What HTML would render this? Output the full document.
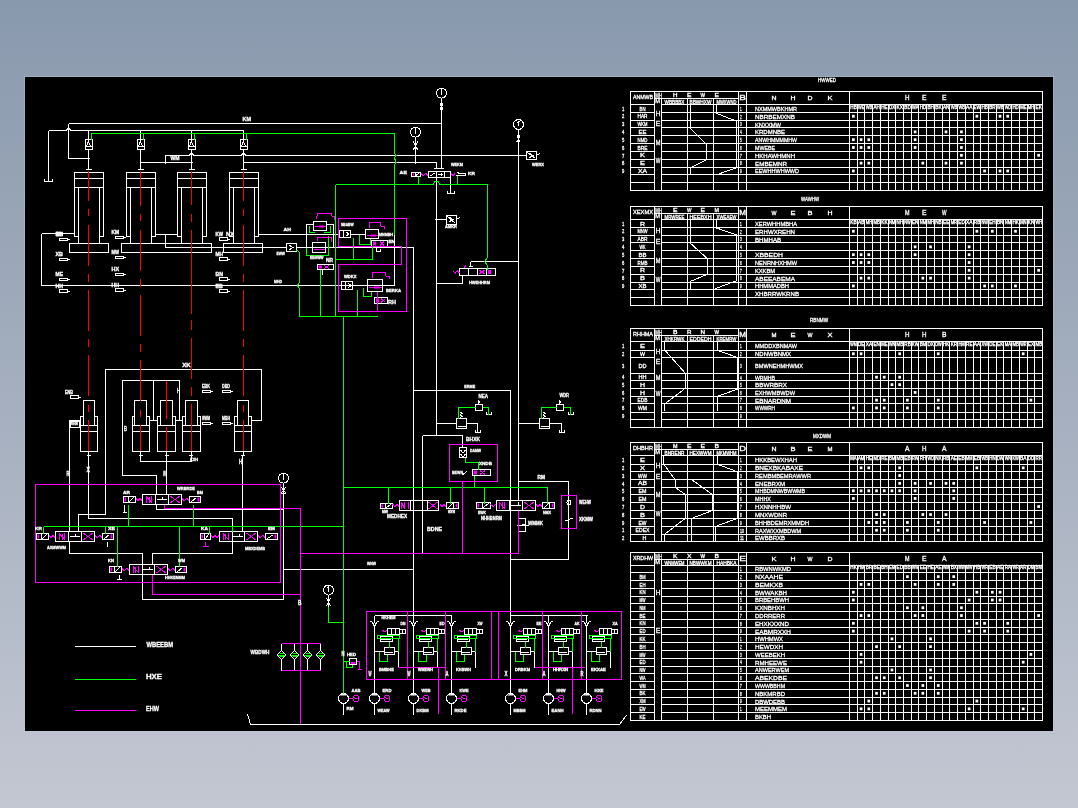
<!DOCTYPE html>
<html><head><meta charset="utf-8"><title>CAD</title>
<style>
html,body{margin:0;padding:0;width:1078px;height:808px;overflow:hidden;}
body{background:linear-gradient(to bottom,#8999ad 0px,#a5afbf 404px,#c3c7d2 808px);font-family:"Liberation Sans",sans-serif;}
#cad{position:absolute;left:25px;top:77px;width:1028px;height:654px;background:#000;box-shadow:0 0 0 1px rgba(190,205,225,0.3);}
svg{position:absolute;left:0;top:0;will-change:transform;}
text{font-family:"Liberation Sans",sans-serif;}
</style></head><body>
<div id="cad"></div>
<svg width="1078" height="808" viewBox="0 0 1078 808">
<g shape-rendering="crispEdges"><path d="M630.5 91.5 L1042.5 91.5 L1042.5 190.5 L630.5 190.5Z M630.5 104.5L654.5 104.5 M661.5 104.5L1042.5 104.5 M654.5 98.3L738.5 98.3 M654.5 91.5L654.5 190.5 M661.5 98.3L661.5 190.5 M687.5 98.3L687.5 190.5 M713.5 98.3L713.5 190.5 M738.5 91.5L738.5 190.5 M746.5 91.5L746.5 190.5 M849.5 91.5L849.5 190.5 M630.5 112.32L654.5 112.32 M661.5 112.32L1042.5 112.32 M630.5 120.14L654.5 120.14 M661.5 120.14L1042.5 120.14 M630.5 127.95L654.5 127.95 M661.5 127.95L1042.5 127.95 M630.5 135.77L654.5 135.77 M661.5 135.77L1042.5 135.77 M630.5 143.59L654.5 143.59 M661.5 143.59L1042.5 143.59 M630.5 151.41L654.5 151.41 M661.5 151.41L1042.5 151.41 M630.5 159.23L654.5 159.23 M661.5 159.23L1042.5 159.23 M630.5 167.05L654.5 167.05 M661.5 167.05L1042.5 167.05 M630.5 174.86L654.5 174.86 M661.5 174.86L1042.5 174.86 M630.5 182.68L654.5 182.68 M661.5 182.68L1042.5 182.68 M857.22 104.5L857.22 190.5 M864.94 104.5L864.94 190.5 M872.66 104.5L872.66 190.5 M880.38 104.5L880.38 190.5 M888.1 104.5L888.1 190.5 M895.82 104.5L895.82 190.5 M903.54 104.5L903.54 190.5 M911.26 104.5L911.26 190.5 M918.98 104.5L918.98 190.5 M926.7 104.5L926.7 190.5 M934.42 104.5L934.42 190.5 M942.14 104.5L942.14 190.5 M949.86 104.5L949.86 190.5 M957.58 104.5L957.58 190.5 M965.3 104.5L965.3 190.5 M973.02 104.5L973.02 190.5 M980.74 104.5L980.74 190.5 M988.46 104.5L988.46 190.5 M996.18 104.5L996.18 190.5 M1003.9 104.5L1003.9 190.5 M1011.62 104.5L1011.62 190.5 M1019.34 104.5L1019.34 190.5 M1027.06 104.5L1027.06 190.5 M1034.78 104.5L1034.78 190.5 M690.5 104.5 L690.5 128.8 L706.5 144.4 L706.5 159.8 L690.5 167.7 L690.5 175.1 M716.5 104.5 L716.5 113.3 L736.5 121.2 L736.5 167.7 L715.5 175.1 M630.5 206.5 L1042.5 206.5 L1042.5 305.5 L630.5 305.5Z M630.5 219.5L654.5 219.5 M661.5 219.5L1042.5 219.5 M654.5 213.3L738.5 213.3 M654.5 206.5L654.5 305.5 M661.5 213.3L661.5 305.5 M687.5 213.3L687.5 305.5 M713.5 213.3L713.5 305.5 M738.5 206.5L738.5 305.5 M746.5 206.5L746.5 305.5 M849.5 206.5L849.5 305.5 M630.5 227.32L654.5 227.32 M661.5 227.32L1042.5 227.32 M630.5 235.14L654.5 235.14 M661.5 235.14L1042.5 235.14 M630.5 242.95L654.5 242.95 M661.5 242.95L1042.5 242.95 M630.5 250.77L654.5 250.77 M661.5 250.77L1042.5 250.77 M630.5 258.59L654.5 258.59 M661.5 258.59L1042.5 258.59 M630.5 266.41L654.5 266.41 M661.5 266.41L1042.5 266.41 M630.5 274.23L654.5 274.23 M661.5 274.23L1042.5 274.23 M630.5 282.05L654.5 282.05 M661.5 282.05L1042.5 282.05 M630.5 289.86L654.5 289.86 M661.5 289.86L1042.5 289.86 M630.5 297.68L654.5 297.68 M661.5 297.68L1042.5 297.68 M857.22 219.5L857.22 305.5 M864.94 219.5L864.94 305.5 M872.66 219.5L872.66 305.5 M880.38 219.5L880.38 305.5 M888.1 219.5L888.1 305.5 M895.82 219.5L895.82 305.5 M903.54 219.5L903.54 305.5 M911.26 219.5L911.26 305.5 M918.98 219.5L918.98 305.5 M926.7 219.5L926.7 305.5 M934.42 219.5L934.42 305.5 M942.14 219.5L942.14 305.5 M949.86 219.5L949.86 305.5 M957.58 219.5L957.58 305.5 M965.3 219.5L965.3 305.5 M973.02 219.5L973.02 305.5 M980.74 219.5L980.74 305.5 M988.46 219.5L988.46 305.5 M996.18 219.5L996.18 305.5 M1003.9 219.5L1003.9 305.5 M1011.62 219.5L1011.62 305.5 M1019.34 219.5L1019.34 305.5 M1027.06 219.5L1027.06 305.5 M1034.78 219.5L1034.78 305.5 M690.5 219.5 L690.5 243.3 L707.5 258.7 L707.5 274.3 L690.5 281.3 L690.5 289.2 M716.5 219.5 L716.5 228 L736.5 234.8 L736.5 280.7 L715.5 288.6 M630.5 328.5 L1042.5 328.5 L1042.5 427 L630.5 427Z M630.5 341.5L654.5 341.5 M661.5 341.5L1042.5 341.5 M654.5 335.3L738.5 335.3 M654.5 328.5L654.5 427 M661.5 335.3L661.5 427 M687.5 335.3L687.5 427 M713.5 335.3L713.5 427 M738.5 328.5L738.5 427 M746.5 328.5L746.5 427 M849.5 328.5L849.5 427 M630.5 350.1L654.5 350.1 M661.5 350.1L1042.5 350.1 M630.5 357.4L654.5 357.4 M661.5 357.4L1042.5 357.4 M630.5 373.6L654.5 373.6 M661.5 373.6L1042.5 373.6 M630.5 380.8L654.5 380.8 M661.5 380.8L1042.5 380.8 M630.5 388.5L654.5 388.5 M661.5 388.5L1042.5 388.5 M630.5 396.4L654.5 396.4 M661.5 396.4L1042.5 396.4 M630.5 403.9L654.5 403.9 M661.5 403.9L1042.5 403.9 M630.5 412L654.5 412 M661.5 412L1042.5 412 M630.5 419.9L654.5 419.9 M661.5 419.9L1042.5 419.9 M857.22 341.5L857.22 427 M864.94 341.5L864.94 427 M872.66 341.5L872.66 427 M880.38 341.5L880.38 427 M888.1 341.5L888.1 427 M895.82 341.5L895.82 427 M903.54 341.5L903.54 427 M911.26 341.5L911.26 427 M918.98 341.5L918.98 427 M926.7 341.5L926.7 427 M934.42 341.5L934.42 427 M942.14 341.5L942.14 427 M949.86 341.5L949.86 427 M957.58 341.5L957.58 427 M965.3 341.5L965.3 427 M973.02 341.5L973.02 427 M980.74 341.5L980.74 427 M988.46 341.5L988.46 427 M996.18 341.5L996.18 427 M1003.9 341.5L1003.9 427 M1011.62 341.5L1011.62 427 M1019.34 341.5L1019.34 427 M1027.06 341.5L1027.06 427 M1034.78 341.5L1034.78 427 M664.8 341.5 L664.8 350.1 L685 372.9 L685 388.5 L664.8 403.9 L664.8 411.3 M717 341.5 L717 350.1 L737 357.4 L737 389.4 L717 396.4 L717 411.3 M630.5 442.5 L1042.5 442.5 L1042.5 541.5 L630.5 541.5Z M630.5 455.2L654.5 455.2 M661.5 455.2L1042.5 455.2 M654.5 449.3L738.5 449.3 M654.5 442.5L654.5 541.5 M661.5 449.3L661.5 541.5 M687.5 449.3L687.5 541.5 M713.5 449.3L713.5 541.5 M738.5 442.5L738.5 541.5 M746.5 442.5L746.5 541.5 M849.5 442.5L849.5 541.5 M630.5 464.1L654.5 464.1 M661.5 464.1L1042.5 464.1 M630.5 471.6L654.5 471.6 M661.5 471.6L1042.5 471.6 M630.5 479.5L654.5 479.5 M661.5 479.5L1042.5 479.5 M630.5 487.2L654.5 487.2 M661.5 487.2L1042.5 487.2 M630.5 494.4L654.5 494.4 M661.5 494.4L1042.5 494.4 M630.5 502.5L654.5 502.5 M661.5 502.5L1042.5 502.5 M630.5 510.6L654.5 510.6 M661.5 510.6L1042.5 510.6 M630.5 518.5L654.5 518.5 M661.5 518.5L1042.5 518.5 M630.5 526.4L654.5 526.4 M661.5 526.4L1042.5 526.4 M630.5 534.1L654.5 534.1 M661.5 534.1L1042.5 534.1 M857.22 455.2L857.22 541.5 M864.94 455.2L864.94 541.5 M872.66 455.2L872.66 541.5 M880.38 455.2L880.38 541.5 M888.1 455.2L888.1 541.5 M895.82 455.2L895.82 541.5 M903.54 455.2L903.54 541.5 M911.26 455.2L911.26 541.5 M918.98 455.2L918.98 541.5 M926.7 455.2L926.7 541.5 M934.42 455.2L934.42 541.5 M942.14 455.2L942.14 541.5 M949.86 455.2L949.86 541.5 M957.58 455.2L957.58 541.5 M965.3 455.2L965.3 541.5 M973.02 455.2L973.02 541.5 M980.74 455.2L980.74 541.5 M988.46 455.2L988.46 541.5 M996.18 455.2L996.18 541.5 M1003.9 455.2L1003.9 541.5 M1011.62 455.2L1011.62 541.5 M1019.34 455.2L1019.34 541.5 M1027.06 455.2L1027.06 541.5 M1034.78 455.2L1034.78 541.5 M663.7 455.2 L663.7 464.1 L675 479.5 L675 487.2 L685 494.4 L685 518.5 L664.8 534.1 L664.8 541.5 M691.5 479.5 L712.2 494.4 L712.2 510.6 L691.5 518.5 L691.5 541.5 M717 455.2 L717 464.1 L737 471.6 L737 518.5 L715.6 526.4 L715.6 541.5 M630.5 552.5 L1042.5 552.5 L1042.5 720.5 L630.5 720.5Z M630.5 565L654.5 565 M661.5 565L1042.5 565 M654.5 559.3L738.5 559.3 M654.5 552.5L654.5 720.5 M661.5 559.3L661.5 720.5 M687.5 559.3L687.5 720.5 M713.5 559.3L713.5 720.5 M738.5 552.5L738.5 720.5 M746.5 552.5L746.5 720.5 M849.5 552.5L849.5 720.5 M630.5 572.77L654.5 572.77 M661.5 572.77L1042.5 572.77 M630.5 580.55L654.5 580.55 M661.5 580.55L1042.5 580.55 M630.5 588.33L654.5 588.33 M661.5 588.33L1042.5 588.33 M630.5 596.1L654.5 596.1 M661.5 596.1L1042.5 596.1 M630.5 603.88L654.5 603.88 M661.5 603.88L1042.5 603.88 M630.5 611.65L654.5 611.65 M661.5 611.65L1042.5 611.65 M630.5 619.42L654.5 619.42 M661.5 619.42L1042.5 619.42 M630.5 627.2L654.5 627.2 M661.5 627.2L1042.5 627.2 M630.5 634.98L654.5 634.98 M661.5 634.98L1042.5 634.98 M630.5 642.75L654.5 642.75 M661.5 642.75L1042.5 642.75 M630.5 650.52L654.5 650.52 M661.5 650.52L1042.5 650.52 M630.5 658.3L654.5 658.3 M661.5 658.3L1042.5 658.3 M630.5 666.08L654.5 666.08 M661.5 666.08L1042.5 666.08 M630.5 673.85L654.5 673.85 M661.5 673.85L1042.5 673.85 M630.5 681.62L654.5 681.62 M661.5 681.62L1042.5 681.62 M630.5 689.4L654.5 689.4 M661.5 689.4L1042.5 689.4 M630.5 697.17L654.5 697.17 M661.5 697.17L1042.5 697.17 M630.5 704.95L654.5 704.95 M661.5 704.95L1042.5 704.95 M630.5 712.73L654.5 712.73 M661.5 712.73L1042.5 712.73 M857.22 565L857.22 720.5 M864.94 565L864.94 720.5 M872.66 565L872.66 720.5 M880.38 565L880.38 720.5 M888.1 565L888.1 720.5 M895.82 565L895.82 720.5 M903.54 565L903.54 720.5 M911.26 565L911.26 720.5 M918.98 565L918.98 720.5 M926.7 565L926.7 720.5 M934.42 565L934.42 720.5 M942.14 565L942.14 720.5 M949.86 565L949.86 720.5 M957.58 565L957.58 720.5 M965.3 565L965.3 720.5 M973.02 565L973.02 720.5 M980.74 565L980.74 720.5 M988.46 565L988.46 720.5 M996.18 565L996.18 720.5 M1003.9 565L1003.9 720.5 M1011.62 565L1011.62 720.5 M1019.34 565L1019.34 720.5 M1027.06 565L1027.06 720.5 M1034.78 565L1034.78 720.5 M68.5 123.5L441.5 123.5 M68.5 123.5L68.5 158.5 M68.5 158.5L89.5 158.5 M48.5 130.5L66 130.5 M66 130.5 L68.5 128 L71 130.5 M71 130.5L244 130.5 M48.5 130.5L48.5 181 M44.5 181.5L52.5 181.5 M44.5 179L44.5 181.5 M52.5 179L52.5 181.5 M88.5 130.5L88.5 139.5 M85 139.5 L92.5 139.5 L92.5 149.5 L85 149.5Z M86.5 146 L88.5 141.5 L90.5 146 M86 146.5L91.5 146.5 M88.5 149.5L88.5 170 M85.5 169.5L91.5 169.5 M140.5 130.5L140.5 139.5 M137 139.5 L144.5 139.5 L144.5 149.5 L137 149.5Z M138.5 146 L140.5 141.5 L142.5 146 M138 146.5L143.5 146.5 M140.5 149.5L140.5 170 M137.5 169.5L143.5 169.5 M191.5 130.5L191.5 139.5 M188 139.5 L195.5 139.5 L195.5 149.5 L188 149.5Z M189.5 146 L191.5 141.5 L193.5 146 M189 146.5L194.5 146.5 M191.5 149.5L191.5 170 M188.5 169.5L194.5 169.5 M243.5 130.5L243.5 139.5 M240 139.5 L247.5 139.5 L247.5 149.5 L240 149.5Z M241.5 146 L243.5 141.5 L245.5 146 M241 146.5L246.5 146.5 M243.5 149.5L243.5 170 M240.5 169.5L246.5 169.5 M165 155.5L189 155.5 M189 155.5 L191.5 153 L194 155.5 M194 155.5L241 155.5 M241 155.5 L243.5 153 L246 155.5 M246 155.5L526.5 155.5 M165.5 155.5L165.5 164 M140.5 162.5L192.5 162.5 M243.5 162.5L436.5 162.5 M436.5 162.5L436.5 168.5 M434 168.5L439 168.5 M78.6 236.5 L74.6 236.5 L74.6 172.5 L103.6 172.5 L103.6 236.5 L99.6 236.5 M74.6 178.5L103.6 178.5 M74.6 187.5L103.6 187.5 M78.6 187.5L78.6 243.5 M99.6 187.5L99.6 243.5 M130.4 236.5 L126.4 236.5 L126.4 172.5 L155.4 172.5 L155.4 236.5 L151.4 236.5 M126.4 178.5L155.4 178.5 M126.4 187.5L155.4 187.5 M130.4 187.5L130.4 243.5 M151.4 187.5L151.4 243.5 M181.6 236.5 L177.6 236.5 L177.6 172.5 L206.6 172.5 L206.6 236.5 L202.6 236.5 M177.6 178.5L206.6 178.5 M177.6 187.5L206.6 187.5 M181.6 187.5L181.6 243.5 M202.6 187.5L202.6 243.5 M233.3 236.5 L229.3 236.5 L229.3 172.5 L258.3 172.5 L258.3 236.5 L254.3 236.5 M229.3 178.5L258.3 178.5 M229.3 187.5L258.3 187.5 M233.3 187.5L233.3 243.5 M254.3 187.5L254.3 243.5 M69.5 243.5 L108.5 243.5 L108.5 252.5 L69.5 252.5Z M121.5 243.5 L211.5 243.5 L211.5 252.5 L121.5 252.5Z M223.5 243.5 L262.5 243.5 L262.5 252.5 L223.5 252.5Z M155.4 234.5L176.6 234.5 M165.5 234.5L165.5 247.5 M165.5 247.5L286.5 247.5 M41.5 233.5L41.5 285.5 M41.5 233.5L74.6 233.5 M41.5 285.5L394.5 285.5 M394.5 235L394.5 285.5 M258.3 234.5L339.5 234.5 M262.5 247.5L286.5 247.5 M286.5 243.5 L296.5 243.5 L296.5 251.5 L286.5 251.5Z M289 245 L293 247.5 L289 250 M296.5 247.5L413.5 247.5 M413.5 247.5L413.5 615.5 M59 238.3 L67 238.3 L67 240.7 L59 240.7Z M67 239.5L70 239.5 M59 258.3 L67 258.3 L67 260.7 L59 260.7Z M67 259.5L70 259.5 M59 278.3 L67 278.3 L67 280.7 L59 280.7Z M67 279.5L70 279.5 M59 289.8 L67 289.8 L67 292.2 L59 292.2Z M67 291L70 291 M115 236.3 L123 236.3 L123 238.7 L115 238.7Z M123 237.5L126 237.5 M115 256.3 L123 256.3 L123 258.7 L115 258.7Z M123 257.5L126 257.5 M115 273.3 L123 273.3 L123 275.7 L115 275.7Z M123 274.5L126 274.5 M115 288.8 L123 288.8 L123 291.2 L115 291.2Z M123 290L126 290 M219 237.8 L227 237.8 L227 240.2 L219 240.2Z M227 239L230 239 M219 257.8 L227 257.8 L227 260.2 L219 260.2Z M227 259L230 259 M219 277.8 L227 277.8 L227 280.2 L219 280.2Z M227 279L230 279 M219 289.8 L227 289.8 L227 292.2 L219 292.2Z M227 291L230 291 M313.5 224.5 L306.5 224.5 L306.5 247.5 M326.5 224.5 L333.5 224.5 L333.5 247.5 M313.5 221.5 L326.5 221.5 L326.5 230.5 L313.5 230.5Z M312.5 242.5 L325.5 242.5 L325.5 252.5 L312.5 252.5Z M339.5 230.5 L350.5 230.5 L350.5 237.5 L339.5 237.5Z M343.5 230.5L343.5 237.5 M346 232 L349 234 L346 236 M350.5 234.5L365.5 234.5 M365.5 229.5 L378.5 229.5 L378.5 238.5 L365.5 238.5Z M371.5 240.5 L387.5 240.5 L387.5 246.5 L371.5 246.5Z M376 246.5L376 251.5 M376 251.5L380 251.5 M376 249L376 251.5 M380 249L380 251.5 M341.5 281.5 L352.5 281.5 L352.5 289.5 L341.5 289.5Z M345.5 281.5L345.5 289.5 M348 283 L351 285.5 L348 288 M296.5 285.5L341.5 285.5 M352.5 285.5L367.5 285.5 M367.5 279.5 L382.5 279.5 L382.5 291.5 L367.5 291.5Z M374.5 297.5 L387.5 297.5 L387.5 303.5 L374.5 303.5Z M317.5 264.5 L333.5 264.5 L333.5 269.5 L317.5 269.5Z M322.5 269.5L322.5 274.5 M436.5 93.2a5 5 0 1 0 10 0a5 5 0 1 0 -10 0 M441.5 89.2L441.5 94.7 M440.5 91.2L442.5 89.7 M441.5 98.2L441.5 168.5 M440.2 104.5a1.3 1.3 0 1 0 2.6 0a1.3 1.3 0 1 0 -2.6 0 M440.2 108.5a1.3 1.3 0 1 0 2.6 0a1.3 1.3 0 1 0 -2.6 0 M439 168.5L444 168.5 M410.5 132.2a5 5 0 1 0 10 0a5 5 0 1 0 -10 0 M415.5 128.2L415.5 133.7 M414.5 130.2L416.5 128.7 M415.5 137.2L415.5 163.6 M413 141 L415.5 146 L418 141 M413 150 L415.5 146 L418 150 M513.5 124.5a5 5 0 1 0 10 0a5 5 0 1 0 -10 0 M518.5 120.5L518.5 126 M517.5 122.5L519.5 121 M518.5 129.5L518.5 500.5 M517.1 136.5a1.4 1.4 0 1 0 2.8 0a1.4 1.4 0 1 0 -2.8 0 M516.5 142.5 L518.5 139 L520.5 142.5 M526.5 151.5 L536.5 151.5 L536.5 159.5 L526.5 159.5Z M527.5 152.5L535.5 158.5 M529 153 L533 155.5 L529 158 M536.5 155.5L540 153.5 M428.5 171.5 L450.5 171.5 L450.5 177.5 L428.5 177.5Z M436.5 171.5L436.5 177.5 M444.5 171.5L444.5 177.5 M430 176L435 173 M437.5 174.5L443 174.5 M441 173L441 176 M411.5 172.5 L420.5 172.5 L420.5 176.5 L411.5 176.5Z M415.1 172.5L415.1 176.5 M415.55 176L419 173 M455.5 175.5 L465 175.5 L465 173.5 L459 173.5 L457 172 M436.5 177.5L436.5 435.5 M450.5 177.5L450.5 193.5 M447 193.5L454 193.5 M447 191L447 193.5 M454 191L454 193.5 M434.5 219.5L446 219.5 M446.5 215.5 L456.5 215.5 L456.5 224.5 L446.5 224.5Z M447.5 216.5L455.5 223.5 M449 217 L453 219.5 L449 222 M456.5 219.5L460 217.5 M470.5 261.5L518.5 261.5 M470.5 261.5L470.5 266 M468.5 266L472.5 266 M459.5 268.5 L495.5 268.5 L495.5 275.5 L459.5 275.5Z M468.5 268.5L468.5 275.5 M477.5 268.5L477.5 275.5 M486.5 268.5L486.5 275.5 M436.5 283.5L462.5 283.5 M462.5 275.5L462.5 283.5 M412.5 390.5L510.5 390.5 M510.5 390.5L510.5 615.5 M436.5 435.5L436.5 435.5 M436.5 423.5L456.5 423.5 M456.5 418.5 L466.5 418.5 L466.5 428.5 L456.5 428.5Z M457.5 426.5L465.5 426.5 M466.5 423.5L477.5 423.5 M477.5 423.5L477.5 432.5 M475 432.5L480 432.5 M475 430L475 432.5 M480 430L480 432.5 M460 418 L462 416.5 L460 415 L462 413.5 L460 412 M475.5 404.5 L482.5 404.5 L482.5 410.5 L475.5 410.5Z M486 414.5L491 414.5 M486 412L486 414.5 M491 412L491 414.5 M478 404 L479.5 402 L478 400.5 M518.5 423.5L539.5 423.5 M539.5 418.5 L549.5 418.5 L549.5 428.5 L539.5 428.5Z M540.5 426.5L548.5 426.5 M549.5 423.5L561.5 423.5 M561.5 423.5L561.5 432.5 M559 432.5L564 432.5 M559 430L559 432.5 M564 430L564 432.5 M543 418 L545 416.5 L543 415 L545 413.5 L543 412 M556.5 404.5 L563.5 404.5 L563.5 410.5 L556.5 410.5Z M568 414.5L573 414.5 M568 412L568 414.5 M573 412L573 414.5 M559 404 L560.5 402 L559 400.5 M422.5 435.5L462.5 435.5 M422.5 435.5L422.5 552.5 M462.5 435.5L462.5 447 M459.5 447.5 L466.5 447.5 L466.5 457.5 L459.5 457.5Z M460.5 450 L463 453 L465.5 450 M460.5 454 L463 457 L465.5 454 M472.5 469.5 L490.5 469.5 L490.5 475.5 L472.5 475.5Z M462 475L467 471.5 M380.5 503.5 L392.5 503.5 L392.5 508.5 L380.5 508.5Z M385.3 503.5L385.3 508.5 M385.9 508L391 504 M399.5 500.5 L438.5 500.5 L438.5 510.5 L399.5 510.5Z M410.5 500.5L410.5 510.5 M427.5 500.5L427.5 510.5 M446.5 502.5 L458.5 502.5 L458.5 508.5 L446.5 508.5Z M453.7 502.5L453.7 508.5 M448 508L453.1 503 M476.5 502.5 L490.5 502.5 L490.5 508.5 L476.5 508.5Z M482.1 502.5L482.1 508.5 M482.8 508L489 503 M496.5 500.5 L535.5 500.5 L535.5 510.5 L496.5 510.5Z M509.5 500.5L509.5 510.5 M522.5 500.5L522.5 510.5 M511 505.5L521 505.5 M518.5 502L518.5 505.5 M542.5 502.5 L554.5 502.5 L554.5 508.5 L542.5 508.5Z M549.7 502.5L549.7 508.5 M544 508L549.1 503 M518.5 481.5L568.5 481.5 M568.5 481.5L568.5 559.5 M510.5 559.5L568.5 559.5 M567 502.5a2 2 0 1 0 4 0a2 2 0 1 0 -4 0 M565 521L573 518 M518.5 518.5 L525.5 518.5 L525.5 531.5 L518.5 531.5Z M516.5 525L528.5 525 M519 526L526 524 M252.5 420.5 L261.5 420.5 L261.5 369.5 L105.5 369.5 L105.5 514.5 L78.5 514.5 L78.5 531.5 M179.5 380.5 L122.5 380.5 L122.5 475.5 L156.5 475.5 L156.5 494.5 M153.5 380.5L153.5 420.5 M179.5 380.5L179.5 420.5 M83.2 400.5 L94.4 400.5 L94.4 425.5 L83.2 425.5Z M83.2 416.5 L80.1 416.5 L80.1 451.5 L97.5 451.5 L97.5 416.5 L94.4 416.5 M80.1 425.5L97.5 425.5 M80.1 431.5L97.5 431.5 M88.8 451.5L88.8 455 M86.8 455L90.8 455 M134.4 400.5 L146.8 400.5 L146.8 425.5 L134.4 425.5Z M134.4 416.5 L132.2 416.5 L132.2 451.5 L149 451.5 L149 416.5 L146.8 416.5 M132.2 425.5L149 425.5 M132.2 431.5L149 431.5 M140.6 451.5L140.6 455 M138.6 455L142.6 455 M160.5 400.5 L172.5 400.5 L172.5 425.5 L160.5 425.5Z M160.5 416.5 L157.4 416.5 L157.4 451.5 L175.6 451.5 L175.6 416.5 L172.5 416.5 M157.4 425.5L175.6 425.5 M157.4 431.5L175.6 431.5 M166.5 451.5L166.5 455 M164.5 455L168.5 455 M185.3 400.5 L197.3 400.5 L197.3 425.5 L185.3 425.5Z M185.3 416.5 L182.6 416.5 L182.6 451.5 L200 451.5 L200 416.5 L197.3 416.5 M182.6 425.5L200 425.5 M182.6 431.5L200 431.5 M191.3 451.5L191.3 455 M189.3 455L193.3 455 M237.2 400.5 L248.8 400.5 L248.8 425.5 L237.2 425.5Z M237.2 416.5 L234.3 416.5 L234.3 451.5 L251.7 451.5 L251.7 416.5 L248.8 416.5 M234.3 425.5L251.7 425.5 M234.3 431.5L251.7 431.5 M243 451.5L243 455 M241 455L245 455 M69.5 531.5 L69.5 420.5 L79.5 420.5 M70.5 421.5 L79.5 421.5 L79.5 427 L70.5 427Z M149 420.5L156.5 420.5 M174.8 420.5L182.8 420.5 M251.5 420.5L252.9 420.5 M140.5 461.5L191.5 461.5 M140.5 455L140.5 461.5 M191.5 455L191.5 461.5 M166.5 455L166.5 494.5 M88.5 455L88.5 518.5 M88.5 518.5L232.5 518.5 M232.5 518.5L232.5 531.5 M242.5 455L242.5 531.5 M70 395.8 L78 395.8 L78 398.2 L70 398.2Z M78 397L81 397 M202 390.3 L210 390.3 L210 392.7 L202 392.7Z M210 391.5L213 391.5 M222 390.3 L230 390.3 L230 392.7 L222 392.7Z M230 391.5L233 391.5 M202 422.3 L210 422.3 L210 424.7 L202 424.7Z M210 423.5L213 423.5 M222 422.3 L230 422.3 L230 424.7 L222 424.7Z M230 423.5L233 423.5 M278.5 478.2a5 5 0 1 0 10 0a5 5 0 1 0 -10 0 M283.5 474.2L283.5 479.7 M282.5 476.2L284.5 474.7 M283.5 483.2L283.5 599.5 M281.5 487.5 L285.5 493 L281.5 493 L285.5 487.5 M142.5 494.5 L181.5 494.5 L181.5 504.5 L142.5 504.5Z M155.5 494.5L155.5 504.5 M168.5 494.5L168.5 504.5 M156.5 499.5L166.5 499.5 M162.65 496.5L162.65 499.5 M123.5 496.5 L135.5 496.5 L135.5 502.5 L123.5 502.5Z M128.3 496.5L128.3 502.5 M128.9 502L134 497 M189.5 496.5 L200.5 496.5 L200.5 502.5 L189.5 502.5Z M191.5 501.5L196.5 497.5 M55.5 531.5 L94.5 531.5 L94.5 541.5 L55.5 541.5Z M68.5 531.5L68.5 541.5 M81.5 531.5L81.5 541.5 M69.5 536.5L79.5 536.5 M75.65 533.5L75.65 536.5 M36.5 533.5 L48.5 533.5 L48.5 539.5 L36.5 539.5Z M41.3 533.5L41.3 539.5 M41.9 539L47 534 M102.5 533.5 L113.5 533.5 L113.5 539.5 L102.5 539.5Z M104.5 538.5L109.5 534.5 M219.5 531.5 L257.5 531.5 L257.5 541.5 L219.5 541.5Z M232.17 531.5L232.17 541.5 M244.83 531.5L244.83 541.5 M233.17 536.5L242.83 536.5 M239.13 533.5L239.13 536.5 M200.5 533.5 L210.5 533.5 L210.5 539.5 L200.5 539.5Z M204.5 533.5L204.5 539.5 M205 539L209 534 M265.5 533.5 L277.5 533.5 L277.5 539.5 L265.5 539.5Z M267.5 538.5L273.5 534.5 M129.5 564.5 L167.5 564.5 L167.5 574.5 L129.5 574.5Z M142.17 564.5L142.17 574.5 M154.83 564.5L154.83 574.5 M143.17 569.5L152.83 569.5 M149.13 566.5L149.13 569.5 M109.5 566.5 L121.5 566.5 L121.5 572.5 L109.5 572.5Z M114.3 566.5L114.3 572.5 M114.9 572L120 567 M175.5 566.5 L186.5 566.5 L186.5 572.5 L175.5 572.5Z M177.5 571.5L182.5 567.5 M124.5 504.5L124.5 512.5 M122.5 512.5L126.5 512.5 M107.5 541.5L107.5 546.5 M119.5 574.5L119.5 579.5 M117 579.5L122 579.5 M156.5 504.5 L156.5 509.5 L283.5 509.5 M69.5 541.5 L69.5 553.5 L142.5 553.5 L142.5 564.5 M152.5 564.5 L152.5 553.5 L232.5 553.5 L232.5 541.5 M142.5 574.5 L142.5 599.5 L283.5 599.5 M283.5 569.5L413.5 569.5 M74.5 646.5L136 646.5 M281.5 650.5 L286 655 L281.5 659.5 L277 655Z M281.5 643.5L281.5 650.5 M281.5 659.5L281.5 670.5 M294.5 650.5 L299 655 L294.5 659.5 L290 655Z M294.5 643.5L294.5 650.5 M294.5 659.5L294.5 670.5 M307.5 650.5 L312 655 L307.5 659.5 L303 655Z M307.5 643.5L307.5 650.5 M307.5 659.5L307.5 670.5 M320.5 650.5 L325 655 L320.5 659.5 L316 655Z M320.5 643.5L320.5 650.5 M320.5 659.5L320.5 670.5 M247.5 714 L250.5 724.5 L619.5 724.5 L626.5 715 M323.5 590a5 5 0 1 0 10 0a5 5 0 1 0 -10 0 M328.5 586L328.5 591.5 M327.5 588L329.5 586.5 M328.5 595L328.5 606.5 M326.5 598 L328.5 602 L330.5 598 M326.5 606 L328.5 602 L330.5 606 M349.5 658.5 L356.5 658.5 L356.5 664.5 L349.5 664.5Z M374.5 615.5L451.5 615.5 M510.5 615.5L587.5 615.5 M338.5 698.5a5 5 0 1 0 10 0a5 5 0 1 0 -10 0 M343.5 703.5L343.5 714.5 M369.5 698.5a5 5 0 1 0 10 0a5 5 0 1 0 -10 0 M374.5 703.5L374.5 714.5 M370 621.5 L371.5 621.5 L374.5 626.5 L377.5 621.5 L379 621.5 M373 624.3a1.5 1.5 0 1 0 3 0a1.5 1.5 0 1 0 -3 0 M374.5 615.5L374.5 622.5 M374.5 626.5L374.5 693.5 M387 628.5 L399.5 628.5 L399.5 634 L387 634Z M391 628.5L391 634 M395 628.5L395 634 M399.5 629.5 L405.5 629.5 L405.5 633 L399.5 633Z M402.5 629.5L402.5 633 M380 636.5 L392 636.5 L392 641.5 L380 641.5Z M381 639L391 639 M384 647.5 L394 647.5 L394 654.5 L384 654.5Z M385 652.5L393 652.5 M374.5 651.5L384 651.5 M394 651.5 L398 651.5 L398 667.5 M408.5 698.5a5 5 0 1 0 10 0a5 5 0 1 0 -10 0 M413.5 703.5L413.5 714.5 M409 621.5 L410.5 621.5 L413.5 626.5 L416.5 621.5 L418 621.5 M412 624.3a1.5 1.5 0 1 0 3 0a1.5 1.5 0 1 0 -3 0 M413.5 615.5L413.5 622.5 M413.5 626.5L413.5 693.5 M426 628.5 L438.5 628.5 L438.5 634 L426 634Z M430 628.5L430 634 M434 628.5L434 634 M438.5 629.5 L444.5 629.5 L444.5 633 L438.5 633Z M441.5 629.5L441.5 633 M419 636.5 L431 636.5 L431 641.5 L419 641.5Z M420 639L430 639 M423 647.5 L433 647.5 L433 654.5 L423 654.5Z M424 652.5L432 652.5 M413.5 651.5L423 651.5 M433 651.5 L437 651.5 L437 667.5 M446.5 698.5a5 5 0 1 0 10 0a5 5 0 1 0 -10 0 M451.5 703.5L451.5 714.5 M447 621.5 L448.5 621.5 L451.5 626.5 L454.5 621.5 L456 621.5 M450 624.3a1.5 1.5 0 1 0 3 0a1.5 1.5 0 1 0 -3 0 M451.5 615.5L451.5 622.5 M451.5 626.5L451.5 693.5 M464 628.5 L476.5 628.5 L476.5 634 L464 634Z M468 628.5L468 634 M472 628.5L472 634 M476.5 629.5 L482.5 629.5 L482.5 633 L476.5 633Z M479.5 629.5L479.5 633 M457 636.5 L469 636.5 L469 641.5 L457 641.5Z M458 639L468 639 M461 647.5 L471 647.5 L471 654.5 L461 654.5Z M462 652.5L470 652.5 M451.5 651.5L461 651.5 M471 651.5 L475 651.5 L475 667.5 M505.5 698.5a5 5 0 1 0 10 0a5 5 0 1 0 -10 0 M510.5 703.5L510.5 714.5 M506 621.5 L507.5 621.5 L510.5 626.5 L513.5 621.5 L515 621.5 M509 624.3a1.5 1.5 0 1 0 3 0a1.5 1.5 0 1 0 -3 0 M510.5 615.5L510.5 622.5 M510.5 626.5L510.5 693.5 M523 628.5 L535.5 628.5 L535.5 634 L523 634Z M527 628.5L527 634 M531 628.5L531 634 M535.5 629.5 L541.5 629.5 L541.5 633 L535.5 633Z M538.5 629.5L538.5 633 M516 636.5 L528 636.5 L528 641.5 L516 641.5Z M517 639L527 639 M520 647.5 L530 647.5 L530 654.5 L520 654.5Z M521 652.5L529 652.5 M510.5 651.5L520 651.5 M530 651.5 L534 651.5 L534 667.5 M543.5 698.5a5 5 0 1 0 10 0a5 5 0 1 0 -10 0 M548.5 703.5L548.5 714.5 M544 621.5 L545.5 621.5 L548.5 626.5 L551.5 621.5 L553 621.5 M547 624.3a1.5 1.5 0 1 0 3 0a1.5 1.5 0 1 0 -3 0 M548.5 615.5L548.5 622.5 M548.5 626.5L548.5 693.5 M561 628.5 L573.5 628.5 L573.5 634 L561 634Z M565 628.5L565 634 M569 628.5L569 634 M573.5 629.5 L579.5 629.5 L579.5 633 L573.5 633Z M576.5 629.5L576.5 633 M554 636.5 L566 636.5 L566 641.5 L554 641.5Z M555 639L565 639 M558 647.5 L568 647.5 L568 654.5 L558 654.5Z M559 652.5L567 652.5 M548.5 651.5L558 651.5 M568 651.5 L572 651.5 L572 667.5 M581.5 698.5a5 5 0 1 0 10 0a5 5 0 1 0 -10 0 M586.5 703.5L586.5 714.5 M582 621.5 L583.5 621.5 L586.5 626.5 L589.5 621.5 L591 621.5 M585 624.3a1.5 1.5 0 1 0 3 0a1.5 1.5 0 1 0 -3 0 M586.5 615.5L586.5 622.5 M586.5 626.5L586.5 693.5 M599 628.5 L611.5 628.5 L611.5 634 L599 634Z M603 628.5L603 634 M607 628.5L607 634 M611.5 629.5 L617.5 629.5 L617.5 633 L611.5 633Z M614.5 629.5L614.5 633 M592 636.5 L604 636.5 L604 641.5 L592 641.5Z M593 639L603 639 M596 647.5 L606 647.5 L606 654.5 L596 654.5Z M597 652.5L605 652.5 M586.5 651.5L596 651.5 M606 651.5 L610 651.5 L610 667.5" stroke="#ffffff" stroke-width="1" fill="none"/>
<path d="M91 133.5L394.5 133.5 M91 133.5L91 139.5 M143 133.5L143 139.5 M194 133.5L194 139.5 M246 133.5L246 139.5 M309.5 226 L309.5 232.5 L315 232.5 M324 232.5 L330.5 232.5 L330.5 226 M306.5 248 L306.5 255.5 L328.5 255.5 L328.5 236 M353.5 237.5 L353.5 259.5 M359.5 234.5 L359.5 244.5 L370.5 244.5 L370.5 238.5 M335.5 259.5L372.5 259.5 M372.5 246.5L372.5 259.5 M394.5 133.5L394.5 153 M394.5 153 L396 155.5 L394.5 158 L396 162.5 L394.5 165 M394.5 165L394.5 235 M357.5 289.5 L357.5 316.5 M363.5 288 L363.5 296.5 L371 296.5 L371 291.5 M320.5 269.5L320.5 316.5 M299.5 316.5L377.5 316.5 M299.5 251.5L299.5 282 M299.5 282 L297.5 285.5 L299.5 289 M299.5 289L299.5 316.5 M296.5 250.5 L299.5 251.5 M335.5 184.5L335.5 316.5 M343.5 316.5L343.5 693.5 M335.5 184.5L433 184.5 M433 184.5 L434.5 181.8 L438.5 181.8 L440 184.5 M440 184.5L487.5 184.5 M418.5 177L418.5 184.5 M457.5 175.5L457.5 184.5 M487.5 184.5L487.5 257.5 M487.5 257.5 L484.5 261.5 L487.5 265.5 L487.5 270 M458.5 418.5 L458.5 407.5 L475.5 407.5 M482.5 407.5 L488.5 407.5 L488.5 414.5 M541.5 418.5 L541.5 407.5 L556.5 407.5 M563.5 407.5 L570.5 407.5 L570.5 414.5 M465.5 457.5 L465.5 462.5 L478.5 462.5 L478.5 469.5 M474.5 475.5L474.5 487.5 M343.5 487.5L547.5 487.5 M450.5 487.5L450.5 503.5 M484.5 487.5L484.5 503.5 M547.5 487.5L547.5 503.5 M388.5 487.5L388.5 503.5 M43.5 526.5L343.5 526.5 M128.5 504.5L128.5 526.5 M193.5 504.5L193.5 526.5 M105.5 526.5L105.5 533.5 M43.5 526.5L43.5 533.5 M117.5 526.5L117.5 566.5 M179.5 526.5L179.5 566.5 M209.5 526.5L209.5 533.5 M232.5 526.5L232.5 531.5 M283.5 526.5L300.5 526.5 M74.5 679.5L136 679.5 M278 655L285 655 M279.5 653.5L283.5 653.5 M279.5 656.5L283.5 656.5 M291 655L298 655 M292.5 653.5L296.5 653.5 M292.5 656.5L296.5 656.5 M304 655L311 655 M305.5 653.5L309.5 653.5 M305.5 656.5L309.5 656.5 M317 655L324 655 M318.5 653.5L322.5 653.5 M318.5 656.5L322.5 656.5 M328.5 606.5 L328.5 622.5 L342.5 622.5 M343.5 661.5 L349.5 661.5 M346.5 661.5 L346.5 667.5 L352.5 667.5 L352.5 664.5 M377 635.5 L399 635.5 L399 638.5 L377 638.5Z M389 641.5L389 647.5 M398 638.5L398 651.5 M379.5 651.5 L379.5 661.5 L387.5 661.5 L387.5 654.5 M416 635.5 L438 635.5 L438 638.5 L416 638.5Z M428 641.5L428 647.5 M437 638.5L437 651.5 M418.5 651.5 L418.5 661.5 L426.5 661.5 L426.5 654.5 M454 635.5 L476 635.5 L476 638.5 L454 638.5Z M466 641.5L466 647.5 M475 638.5L475 651.5 M456.5 651.5 L456.5 661.5 L464.5 661.5 L464.5 654.5 M513 635.5 L535 635.5 L535 638.5 L513 638.5Z M525 641.5L525 647.5 M534 638.5L534 651.5 M515.5 651.5 L515.5 661.5 L523.5 661.5 L523.5 654.5 M551 635.5 L573 635.5 L573 638.5 L551 638.5Z M563 641.5L563 647.5 M572 638.5L572 651.5 M553.5 651.5 L553.5 661.5 L561.5 661.5 L561.5 654.5 M589 635.5 L611 635.5 L611 638.5 L589 638.5Z M601 641.5L601 647.5 M610 638.5L610 651.5 M591.5 651.5 L591.5 661.5 L599.5 661.5 L599.5 654.5" stroke="#00ff00" stroke-width="1" fill="none"/>
<path d="M338.5 246.5 L338.5 218.5 L406.5 218.5 L406.5 311.5 L338.5 311.5 L338.5 264.5 L401.5 264.5 L401.5 246.5 L338.5 246.5 M314.5 226.5L325.5 226.5 M316 219.5 L318 213 L331 213 L332 216 L334.5 216 L334.5 220 M313.5 249.5L324.5 249.5 M317 241 L318 237 L331 237 L332 242 M366.5 235.5L377.5 235.5 M369 228 L370 222 L380 222 L381 226 L384 226 L384 229 M380 241.5L384 245.5 M380 245.5L384 241.5 M368.5 287.5L381.5 287.5 M372 278 L373 272 L385 272 L386 276 L389 276 L389 279 M381 298.5L385.5 302.5 M381 302.5L385.5 298.5 M377 291.5L377 311.5 M324.5 265.5L329 268.5 M324.5 268.5L329 265.5 M421 173.3 L423.33 175.7 L425.67 173.3 L428 175.7 M451 173.5 L453 175.5 L455 173.5 M479 270L485 274 M479 274L485 270 M453 270.8 L455.17 273.2 L457.33 270.8 L459.5 273.2 M464 268L466 265 M449.5 444.5 L497.5 444.5 L497.5 481.5 L449.5 481.5Z M480 470.5L485 474.5 M480 474.5L485 470.5 M462.5 481.5L462.5 552.5 M392.7 504.3 L394.8 506.7 L396.9 504.3 L399 506.7 M401.5 502L401.5 509 M404.5 502L404.5 509 M401.5 502.5L404.5 508.5 M408.5 502L408.5 509 M428.5 502L437.5 509 M428.5 509L437.5 502 M440 504.3 L442 506.7 L444 504.3 L446 506.7 M490.5 504.3 L493.25 506.7 L496 504.3 M499.5 502L499.5 509 M504.5 502L504.5 509 M499.5 502.5L504.5 508.5 M502 502L502 509 M524 502L534 509 M524 509L534 502 M536 504.3 L538 506.7 L540 504.3 L542 506.7 M561.5 495.5 L576.5 495.5 L576.5 528.5 L561.5 528.5Z M518.5 511L518.5 553.5 M300.5 553.5L518.5 553.5 M35.5 484.5 L280.5 484.5 L280.5 582.5 L35.5 582.5Z M146.4 496L146.4 503 M151.6 496L151.6 503 M146.4 496.5L151.6 502.5 M149 496.5L149 502.5 M170 496L180 503 M170 503L180 496 M136 498.3 L138 500.7 L140 498.3 L142 500.7 M182 498.3 L184.33 500.7 L186.67 498.3 L189 500.7 M59.4 533L59.4 540 M64.6 533L64.6 540 M59.4 533.5L64.6 539.5 M62 533.5L62 539.5 M83 533L93 540 M83 540L93 533 M49 535.3 L51 537.7 L53 535.3 L55 537.7 M95 535.3 L97.33 537.7 L99.67 535.3 L102 537.7 M223.3 533L223.3 540 M228.37 533L228.37 540 M223.3 533.5L228.37 539.5 M225.83 533.5L225.83 539.5 M246.33 533L256 540 M246.33 540L256 533 M211 535.3 L213 537.7 L215 535.3 L217 537.7 L219 535.3 M258 535.3 L260.33 537.7 L262.67 535.3 L265 537.7 M133.3 566L133.3 573 M138.37 566L138.37 573 M133.3 566.5L138.37 572.5 M135.83 566.5L135.83 572.5 M156.33 566L166 573 M156.33 573L166 566 M122 568.3 L124.33 570.7 L126.67 568.3 L129 570.7 M168 568.3 L170.33 570.7 L172.67 568.3 L175 570.7 M205.5 541.5L205.5 546.5 M202.5 546.5L208.5 546.5 M164.5 504.5 L164.5 508.5 L300.5 508.5 M300.5 508.5L300.5 723.5 M152.5 574.5 L152.5 594.5 L300.5 594.5 M74.5 710.5L136 710.5 M300.5 599.5L300.5 643.5 M281.5 643.5L320.5 643.5 M281.5 670.5L320.5 670.5 M300.5 670.5L300.5 723.5 M356.5 661.5 L359.5 661.5 L359.5 669 M357.5 669.5L361.5 669.5 M366.5 611.5 L621.5 611.5 L621.5 679.5 L366.5 679.5Z M407.5 611.5L407.5 679.5 M445.5 611.5L445.5 679.5 M491.5 611.5L491.5 679.5 M498.5 611.5L498.5 679.5 M542.5 611.5L542.5 679.5 M581.5 611.5L581.5 679.5 M353 698.5a3 3 0 1 0 6 0a3 3 0 1 0 -6 0 M348.5 698.5L353 698.5 M354.5 697.5L357.5 699.5 M384 698.5a3 3 0 1 0 6 0a3 3 0 1 0 -6 0 M379.5 698.5L384 698.5 M385.5 697.5L388.5 699.5 M382.5 630 L384.75 632 L387 630 M423 698.5a3 3 0 1 0 6 0a3 3 0 1 0 -6 0 M418.5 698.5L423 698.5 M424.5 697.5L427.5 699.5 M421.5 630 L423.75 632 L426 630 M461 698.5a3 3 0 1 0 6 0a3 3 0 1 0 -6 0 M456.5 698.5L461 698.5 M462.5 697.5L465.5 699.5 M459.5 630 L461.75 632 L464 630 M520 698.5a3 3 0 1 0 6 0a3 3 0 1 0 -6 0 M515.5 698.5L520 698.5 M521.5 697.5L524.5 699.5 M518.5 630 L520.75 632 L523 630 M558 698.5a3 3 0 1 0 6 0a3 3 0 1 0 -6 0 M553.5 698.5L558 698.5 M559.5 697.5L562.5 699.5 M556.5 630 L558.75 632 L561 630 M596 698.5a3 3 0 1 0 6 0a3 3 0 1 0 -6 0 M591.5 698.5L596 698.5 M597.5 697.5L600.5 699.5 M594.5 630 L596.75 632 L599 630 M438.5 667.5L438.5 714 M572.5 667.5L572.5 714 M398 667.5L445.5 667.5 M534.5 667.5L585 667.5" stroke="#ff00ff" stroke-width="1" fill="none"/>
<path d="M191.5 171L191.5 205.3 M191.5 214L191.5 222 M191.5 229.8L191.5 313.9 M191.5 319.8L191.5 329.7 M191.5 337.6L191.5 379 M191.5 386.5L191.5 395.5 M191.5 404L191.5 451 M166.5 381.2L166.5 418.8 M166.5 426.7L166.5 451" stroke="#ff0000" stroke-width="1" fill="none"/></g>
<path d="M88.5 171L88.5 451" stroke="#ff0000" stroke-width="1" fill="none" stroke-dasharray="41 8.4 7.4 8.4" stroke-dashoffset="11.4" shape-rendering="crispEdges"/><path d="M140.5 171L140.5 451" stroke="#ff0000" stroke-width="1" fill="none" stroke-dasharray="41 8.4 7.4 8.4" stroke-dashoffset="6.4" shape-rendering="crispEdges"/><path d="M243.5 171L243.5 451" stroke="#ff0000" stroke-width="1" fill="none" stroke-dasharray="41 8.4 7.4 8.4" stroke-dashoffset="11.4" shape-rendering="crispEdges"/>
<g><rect x="852" y="114.83" width="2.7" height="2.8" fill="#ffffff"/>
<rect x="975.52" y="114.83" width="2.7" height="2.8" fill="#ffffff"/>
<rect x="998.68" y="114.83" width="2.7" height="2.8" fill="#ffffff"/>
<rect x="1006.4" y="114.83" width="2.7" height="2.8" fill="#ffffff"/>
<rect x="913.76" y="130.46" width="2.7" height="2.8" fill="#ffffff"/>
<rect x="944.64" y="130.46" width="2.7" height="2.8" fill="#ffffff"/>
<rect x="960.08" y="130.46" width="2.7" height="2.8" fill="#ffffff"/>
<rect x="852" y="138.28" width="2.7" height="2.8" fill="#ffffff"/>
<rect x="859.72" y="138.28" width="2.7" height="2.8" fill="#ffffff"/>
<rect x="867.44" y="138.28" width="2.7" height="2.8" fill="#ffffff"/>
<rect x="913.76" y="138.28" width="2.7" height="2.8" fill="#ffffff"/>
<rect x="960.08" y="138.28" width="2.7" height="2.8" fill="#ffffff"/>
<rect x="852" y="146.1" width="2.7" height="2.8" fill="#ffffff"/>
<rect x="859.72" y="146.1" width="2.7" height="2.8" fill="#ffffff"/>
<rect x="867.44" y="146.1" width="2.7" height="2.8" fill="#ffffff"/>
<rect x="913.76" y="146.1" width="2.7" height="2.8" fill="#ffffff"/>
<rect x="960.08" y="146.1" width="2.7" height="2.8" fill="#ffffff"/>
<rect x="960.08" y="153.92" width="2.7" height="2.8" fill="#ffffff"/>
<rect x="1037.28" y="153.92" width="2.7" height="2.8" fill="#ffffff"/>
<rect x="859.72" y="161.74" width="2.7" height="2.8" fill="#ffffff"/>
<rect x="867.44" y="161.74" width="2.7" height="2.8" fill="#ffffff"/>
<rect x="921.48" y="161.74" width="2.7" height="2.8" fill="#ffffff"/>
<rect x="944.64" y="161.74" width="2.7" height="2.8" fill="#ffffff"/>
<rect x="960.08" y="161.74" width="2.7" height="2.8" fill="#ffffff"/>
<rect x="852" y="169.55" width="2.7" height="2.8" fill="#ffffff"/>
<rect x="983.24" y="169.55" width="2.7" height="2.8" fill="#ffffff"/>
<rect x="998.68" y="169.55" width="2.7" height="2.8" fill="#ffffff"/>
<rect x="1006.4" y="169.55" width="2.7" height="2.8" fill="#ffffff"/>
<rect x="852" y="229.83" width="2.7" height="2.8" fill="#ffffff"/>
<rect x="975.52" y="229.83" width="2.7" height="2.8" fill="#ffffff"/>
<rect x="990.96" y="229.83" width="2.7" height="2.8" fill="#ffffff"/>
<rect x="1014.12" y="229.83" width="2.7" height="2.8" fill="#ffffff"/>
<rect x="913.76" y="245.46" width="2.7" height="2.8" fill="#ffffff"/>
<rect x="929.2" y="245.46" width="2.7" height="2.8" fill="#ffffff"/>
<rect x="967.8" y="245.46" width="2.7" height="2.8" fill="#ffffff"/>
<rect x="852" y="253.28" width="2.7" height="2.8" fill="#ffffff"/>
<rect x="859.72" y="253.28" width="2.7" height="2.8" fill="#ffffff"/>
<rect x="867.44" y="253.28" width="2.7" height="2.8" fill="#ffffff"/>
<rect x="913.76" y="253.28" width="2.7" height="2.8" fill="#ffffff"/>
<rect x="967.8" y="253.28" width="2.7" height="2.8" fill="#ffffff"/>
<rect x="852" y="261.1" width="2.7" height="2.8" fill="#ffffff"/>
<rect x="859.72" y="261.1" width="2.7" height="2.8" fill="#ffffff"/>
<rect x="867.44" y="261.1" width="2.7" height="2.8" fill="#ffffff"/>
<rect x="967.8" y="261.1" width="2.7" height="2.8" fill="#ffffff"/>
<rect x="967.8" y="268.92" width="2.7" height="2.8" fill="#ffffff"/>
<rect x="1037.28" y="268.92" width="2.7" height="2.8" fill="#ffffff"/>
<rect x="859.72" y="276.74" width="2.7" height="2.8" fill="#ffffff"/>
<rect x="867.44" y="276.74" width="2.7" height="2.8" fill="#ffffff"/>
<rect x="921.48" y="276.74" width="2.7" height="2.8" fill="#ffffff"/>
<rect x="929.2" y="276.74" width="2.7" height="2.8" fill="#ffffff"/>
<rect x="967.8" y="276.74" width="2.7" height="2.8" fill="#ffffff"/>
<rect x="852" y="284.55" width="2.7" height="2.8" fill="#ffffff"/>
<rect x="983.24" y="284.55" width="2.7" height="2.8" fill="#ffffff"/>
<rect x="990.96" y="284.55" width="2.7" height="2.8" fill="#ffffff"/>
<rect x="1014.12" y="284.55" width="2.7" height="2.8" fill="#ffffff"/>
<rect x="852" y="352.35" width="2.7" height="2.8" fill="#ffffff"/>
<rect x="859.72" y="352.35" width="2.7" height="2.8" fill="#ffffff"/>
<rect x="898.32" y="352.35" width="2.7" height="2.8" fill="#ffffff"/>
<rect x="936.92" y="352.35" width="2.7" height="2.8" fill="#ffffff"/>
<rect x="1021.84" y="352.35" width="2.7" height="2.8" fill="#ffffff"/>
<rect x="875.16" y="375.8" width="2.7" height="2.8" fill="#ffffff"/>
<rect x="882.88" y="375.8" width="2.7" height="2.8" fill="#ffffff"/>
<rect x="898.32" y="375.8" width="2.7" height="2.8" fill="#ffffff"/>
<rect x="890.6" y="383.25" width="2.7" height="2.8" fill="#ffffff"/>
<rect x="898.32" y="383.25" width="2.7" height="2.8" fill="#ffffff"/>
<rect x="913.76" y="391.05" width="2.7" height="2.8" fill="#ffffff"/>
<rect x="875.16" y="398.75" width="2.7" height="2.8" fill="#ffffff"/>
<rect x="882.88" y="398.75" width="2.7" height="2.8" fill="#ffffff"/>
<rect x="906.04" y="398.75" width="2.7" height="2.8" fill="#ffffff"/>
<rect x="936.92" y="398.75" width="2.7" height="2.8" fill="#ffffff"/>
<rect x="1029.56" y="398.75" width="2.7" height="2.8" fill="#ffffff"/>
<rect x="852" y="406.55" width="2.7" height="2.8" fill="#ffffff"/>
<rect x="875.16" y="406.55" width="2.7" height="2.8" fill="#ffffff"/>
<rect x="882.88" y="406.55" width="2.7" height="2.8" fill="#ffffff"/>
<rect x="906.04" y="406.55" width="2.7" height="2.8" fill="#ffffff"/>
<rect x="936.92" y="406.55" width="2.7" height="2.8" fill="#ffffff"/>
<rect x="859.72" y="466.45" width="2.7" height="2.8" fill="#ffffff"/>
<rect x="867.44" y="466.45" width="2.7" height="2.8" fill="#ffffff"/>
<rect x="898.32" y="466.45" width="2.7" height="2.8" fill="#ffffff"/>
<rect x="975.52" y="466.45" width="2.7" height="2.8" fill="#ffffff"/>
<rect x="1021.84" y="466.45" width="2.7" height="2.8" fill="#ffffff"/>
<rect x="898.32" y="474.15" width="2.7" height="2.8" fill="#ffffff"/>
<rect x="898.32" y="481.95" width="2.7" height="2.8" fill="#ffffff"/>
<rect x="913.76" y="481.95" width="2.7" height="2.8" fill="#ffffff"/>
<rect x="929.2" y="481.95" width="2.7" height="2.8" fill="#ffffff"/>
<rect x="944.64" y="481.95" width="2.7" height="2.8" fill="#ffffff"/>
<rect x="952.36" y="481.95" width="2.7" height="2.8" fill="#ffffff"/>
<rect x="852" y="489.4" width="2.7" height="2.8" fill="#ffffff"/>
<rect x="859.72" y="489.4" width="2.7" height="2.8" fill="#ffffff"/>
<rect x="867.44" y="489.4" width="2.7" height="2.8" fill="#ffffff"/>
<rect x="875.16" y="489.4" width="2.7" height="2.8" fill="#ffffff"/>
<rect x="882.88" y="489.4" width="2.7" height="2.8" fill="#ffffff"/>
<rect x="890.6" y="489.4" width="2.7" height="2.8" fill="#ffffff"/>
<rect x="898.32" y="489.4" width="2.7" height="2.8" fill="#ffffff"/>
<rect x="913.76" y="489.4" width="2.7" height="2.8" fill="#ffffff"/>
<rect x="952.36" y="489.4" width="2.7" height="2.8" fill="#ffffff"/>
<rect x="852" y="497.05" width="2.7" height="2.8" fill="#ffffff"/>
<rect x="913.76" y="497.05" width="2.7" height="2.8" fill="#ffffff"/>
<rect x="952.36" y="497.05" width="2.7" height="2.8" fill="#ffffff"/>
<rect x="1037.28" y="505.15" width="2.7" height="2.8" fill="#ffffff"/>
<rect x="875.16" y="513.15" width="2.7" height="2.8" fill="#ffffff"/>
<rect x="882.88" y="513.15" width="2.7" height="2.8" fill="#ffffff"/>
<rect x="921.48" y="513.15" width="2.7" height="2.8" fill="#ffffff"/>
<rect x="929.2" y="513.15" width="2.7" height="2.8" fill="#ffffff"/>
<rect x="944.64" y="513.15" width="2.7" height="2.8" fill="#ffffff"/>
<rect x="867.44" y="521.05" width="2.7" height="2.8" fill="#ffffff"/>
<rect x="875.16" y="521.05" width="2.7" height="2.8" fill="#ffffff"/>
<rect x="882.88" y="521.05" width="2.7" height="2.8" fill="#ffffff"/>
<rect x="906.04" y="521.05" width="2.7" height="2.8" fill="#ffffff"/>
<rect x="936.92" y="521.05" width="2.7" height="2.8" fill="#ffffff"/>
<rect x="983.24" y="521.05" width="2.7" height="2.8" fill="#ffffff"/>
<rect x="1029.56" y="521.05" width="2.7" height="2.8" fill="#ffffff"/>
<rect x="875.16" y="528.85" width="2.7" height="2.8" fill="#ffffff"/>
<rect x="882.88" y="528.85" width="2.7" height="2.8" fill="#ffffff"/>
<rect x="906.04" y="528.85" width="2.7" height="2.8" fill="#ffffff"/>
<rect x="936.92" y="528.85" width="2.7" height="2.8" fill="#ffffff"/>
<rect x="906.04" y="575.26" width="2.7" height="2.8" fill="#ffffff"/>
<rect x="936.92" y="575.26" width="2.7" height="2.8" fill="#ffffff"/>
<rect x="952.36" y="575.26" width="2.7" height="2.8" fill="#ffffff"/>
<rect x="859.72" y="583.04" width="2.7" height="2.8" fill="#ffffff"/>
<rect x="867.44" y="583.04" width="2.7" height="2.8" fill="#ffffff"/>
<rect x="913.76" y="583.04" width="2.7" height="2.8" fill="#ffffff"/>
<rect x="936.92" y="583.04" width="2.7" height="2.8" fill="#ffffff"/>
<rect x="952.36" y="583.04" width="2.7" height="2.8" fill="#ffffff"/>
<rect x="852" y="590.81" width="2.7" height="2.8" fill="#ffffff"/>
<rect x="975.52" y="590.81" width="2.7" height="2.8" fill="#ffffff"/>
<rect x="990.96" y="590.81" width="2.7" height="2.8" fill="#ffffff"/>
<rect x="998.68" y="590.81" width="2.7" height="2.8" fill="#ffffff"/>
<rect x="852" y="598.59" width="2.7" height="2.8" fill="#ffffff"/>
<rect x="967.8" y="598.59" width="2.7" height="2.8" fill="#ffffff"/>
<rect x="990.96" y="598.59" width="2.7" height="2.8" fill="#ffffff"/>
<rect x="998.68" y="598.59" width="2.7" height="2.8" fill="#ffffff"/>
<rect x="906.04" y="606.36" width="2.7" height="2.8" fill="#ffffff"/>
<rect x="921.48" y="606.36" width="2.7" height="2.8" fill="#ffffff"/>
<rect x="960.08" y="606.36" width="2.7" height="2.8" fill="#ffffff"/>
<rect x="859.72" y="614.14" width="2.7" height="2.8" fill="#ffffff"/>
<rect x="867.44" y="614.14" width="2.7" height="2.8" fill="#ffffff"/>
<rect x="913.76" y="614.14" width="2.7" height="2.8" fill="#ffffff"/>
<rect x="921.48" y="614.14" width="2.7" height="2.8" fill="#ffffff"/>
<rect x="960.08" y="614.14" width="2.7" height="2.8" fill="#ffffff"/>
<rect x="1037.28" y="614.14" width="2.7" height="2.8" fill="#ffffff"/>
<rect x="852" y="621.91" width="2.7" height="2.8" fill="#ffffff"/>
<rect x="975.52" y="621.91" width="2.7" height="2.8" fill="#ffffff"/>
<rect x="983.24" y="621.91" width="2.7" height="2.8" fill="#ffffff"/>
<rect x="1006.4" y="621.91" width="2.7" height="2.8" fill="#ffffff"/>
<rect x="852" y="629.69" width="2.7" height="2.8" fill="#ffffff"/>
<rect x="967.8" y="629.69" width="2.7" height="2.8" fill="#ffffff"/>
<rect x="983.24" y="629.69" width="2.7" height="2.8" fill="#ffffff"/>
<rect x="1006.4" y="629.69" width="2.7" height="2.8" fill="#ffffff"/>
<rect x="890.6" y="637.46" width="2.7" height="2.8" fill="#ffffff"/>
<rect x="929.2" y="637.46" width="2.7" height="2.8" fill="#ffffff"/>
<rect x="875.16" y="645.24" width="2.7" height="2.8" fill="#ffffff"/>
<rect x="898.32" y="645.24" width="2.7" height="2.8" fill="#ffffff"/>
<rect x="929.2" y="645.24" width="2.7" height="2.8" fill="#ffffff"/>
<rect x="859.72" y="653.01" width="2.7" height="2.8" fill="#ffffff"/>
<rect x="1029.56" y="653.01" width="2.7" height="2.8" fill="#ffffff"/>
<rect x="859.72" y="660.79" width="2.7" height="2.8" fill="#ffffff"/>
<rect x="1021.84" y="660.79" width="2.7" height="2.8" fill="#ffffff"/>
<rect x="890.6" y="668.56" width="2.7" height="2.8" fill="#ffffff"/>
<rect x="929.2" y="668.56" width="2.7" height="2.8" fill="#ffffff"/>
<rect x="875.16" y="676.34" width="2.7" height="2.8" fill="#ffffff"/>
<rect x="882.88" y="676.34" width="2.7" height="2.8" fill="#ffffff"/>
<rect x="898.32" y="676.34" width="2.7" height="2.8" fill="#ffffff"/>
<rect x="929.2" y="676.34" width="2.7" height="2.8" fill="#ffffff"/>
<rect x="906.04" y="684.11" width="2.7" height="2.8" fill="#ffffff"/>
<rect x="921.48" y="684.11" width="2.7" height="2.8" fill="#ffffff"/>
<rect x="936.92" y="684.11" width="2.7" height="2.8" fill="#ffffff"/>
<rect x="875.16" y="691.89" width="2.7" height="2.8" fill="#ffffff"/>
<rect x="882.88" y="691.89" width="2.7" height="2.8" fill="#ffffff"/>
<rect x="913.76" y="691.89" width="2.7" height="2.8" fill="#ffffff"/>
<rect x="921.48" y="691.89" width="2.7" height="2.8" fill="#ffffff"/>
<rect x="936.92" y="691.89" width="2.7" height="2.8" fill="#ffffff"/>
<rect x="867.44" y="699.66" width="2.7" height="2.8" fill="#ffffff"/>
<rect x="975.52" y="699.66" width="2.7" height="2.8" fill="#ffffff"/>
<rect x="859.72" y="707.44" width="2.7" height="2.8" fill="#ffffff"/>
<rect x="867.44" y="707.44" width="2.7" height="2.8" fill="#ffffff"/>
<rect x="967.8" y="707.44" width="2.7" height="2.8" fill="#ffffff"/>
<rect x="1021.84" y="707.44" width="2.7" height="2.8" fill="#ffffff"/>
<rect x="319" y="225.5" width="5" height="2" fill="#ff00ff"/>
<rect x="371" y="234.5" width="5" height="2" fill="#ff00ff"/>
<rect x="373" y="241.5" width="3" height="4" fill="#ff00ff"/>
<rect x="374" y="286.5" width="6" height="2" fill="#ff00ff"/>
<rect x="376" y="298.5" width="3" height="4" fill="#ff00ff"/>
<rect x="318.5" y="265.5" width="3.5" height="3" fill="#ff00ff"/>
<rect x="412.5" y="173.5" width="1.6" height="2" fill="#ff00ff"/>
<rect x="488" y="270" width="3" height="4" fill="#ff00ff"/>
<rect x="473.5" y="470.5" width="3.5" height="4" fill="#ff00ff"/>
<rect x="381.5" y="504.5" width="1.6" height="3" fill="#ff00ff"/>
<rect x="455.9" y="503.5" width="1.6" height="4" fill="#ff00ff"/>
<rect x="477.5" y="503.5" width="1.6" height="4" fill="#ff00ff"/>
<rect x="551.9" y="503.5" width="1.6" height="4" fill="#ff00ff"/>
<rect x="124.5" y="497.5" width="1.6" height="4" fill="#ff00ff"/>
<rect x="197.5" y="497.5" width="2" height="4" fill="#ff00ff"/>
<rect x="37.5" y="534.5" width="1.6" height="4" fill="#ff00ff"/>
<rect x="110.5" y="534.5" width="2" height="4" fill="#ff00ff"/>
<rect x="201.5" y="534.5" width="1.6" height="4" fill="#ff00ff"/>
<rect x="274.5" y="534.5" width="2" height="4" fill="#ff00ff"/>
<rect x="110.5" y="567.5" width="1.6" height="4" fill="#ff00ff"/>
<rect x="183.5" y="567.5" width="2" height="4" fill="#ff00ff"/>
<rect x="351" y="662" width="4.5" height="2" fill="#ff00ff"/>
<path d="M340 695.5L343.5 693.5L347 695.5Z" fill="#fff"/>
<path d="M371 695.5L374.5 693.5L378 695.5Z" fill="#fff"/>
<path d="M410 695.5L413.5 693.5L417 695.5Z" fill="#fff"/>
<path d="M448 695.5L451.5 693.5L455 695.5Z" fill="#fff"/>
<path d="M507 695.5L510.5 693.5L514 695.5Z" fill="#fff"/>
<path d="M545 695.5L548.5 693.5L552 695.5Z" fill="#fff"/>
<path d="M583 695.5L586.5 693.5L590 695.5Z" fill="#fff"/></g>
<g opacity="0.999" stroke="#fff" stroke-width="0.3" font-weight="normal"><text x="633" y="98.5" font-size="5.63" fill="#ffffff" textLength="20" lengthAdjust="spacingAndGlyphs">ANMWB</text>
<text x="655.3" y="97.7" font-size="6.4" fill="#ffffff" textLength="6.7" lengthAdjust="spacingAndGlyphs">MH</text>
<text x="655.3" y="102.7" font-size="5.89" fill="#ffffff" textLength="4.7" lengthAdjust="spacingAndGlyphs">M</text>
<text x="673" y="96.8" font-size="5.12" fill="#ffffff" textLength="4.5" lengthAdjust="spacingAndGlyphs">H</text>
<text x="687" y="96.8" font-size="5.12" fill="#ffffff" textLength="4.5" lengthAdjust="spacingAndGlyphs">E</text>
<text x="700.5" y="96.8" font-size="5.12" fill="#ffffff" textLength="4.5" lengthAdjust="spacingAndGlyphs">W</text>
<text x="714.4" y="96.8" font-size="5.12" fill="#ffffff" textLength="4.5" lengthAdjust="spacingAndGlyphs">E</text>
<text x="655.8" y="116.25" font-size="6.66" fill="#ffffff" textLength="4.7" lengthAdjust="spacingAndGlyphs">H</text>
<text x="655.8" y="126.25" font-size="6.66" fill="#ffffff" textLength="4.7" lengthAdjust="spacingAndGlyphs">E</text>
<text x="655.8" y="145.25" font-size="6.66" fill="#ffffff" textLength="4.7" lengthAdjust="spacingAndGlyphs">M</text>
<text x="655.8" y="162.75" font-size="6.66" fill="#ffffff" textLength="4.7" lengthAdjust="spacingAndGlyphs">W</text>
<text x="664.5" y="103.5" font-size="5.12" fill="#ffffff" textLength="20" lengthAdjust="spacingAndGlyphs">WBBBBX</text>
<text x="689.5" y="103.5" font-size="5.12" fill="#ffffff" textLength="22" lengthAdjust="spacingAndGlyphs">BBWHXW</text>
<text x="716.5" y="103.5" font-size="5.12" fill="#ffffff" textLength="20" lengthAdjust="spacingAndGlyphs">MWXWND</text>
<text x="739.3" y="100.35" font-size="6.66" fill="#ffffff" textLength="6.7" lengthAdjust="spacingAndGlyphs">B</text>
<text x="771.5" y="99.5" font-size="5.76" fill="#ffffff" textLength="5" lengthAdjust="spacingAndGlyphs">N</text>
<text x="790.5" y="99.5" font-size="5.76" fill="#ffffff" textLength="5" lengthAdjust="spacingAndGlyphs">H</text>
<text x="807.5" y="99.5" font-size="5.76" fill="#ffffff" textLength="5" lengthAdjust="spacingAndGlyphs">D</text>
<text x="827.5" y="99.5" font-size="5.76" fill="#ffffff" textLength="5" lengthAdjust="spacingAndGlyphs">K</text>
<text x="905" y="100" font-size="6.4" fill="#ffffff" textLength="4.5" lengthAdjust="spacingAndGlyphs">H</text>
<text x="922" y="100" font-size="6.4" fill="#ffffff" textLength="4.5" lengthAdjust="spacingAndGlyphs">E</text>
<text x="942" y="100" font-size="6.4" fill="#ffffff" textLength="4.5" lengthAdjust="spacingAndGlyphs">E</text>
<text x="850.3" y="108.8" font-size="4.48" fill="#ffffff" textLength="6.42" lengthAdjust="spacingAndGlyphs">HB</text>
<text x="858.02" y="108.8" font-size="4.48" fill="#ffffff" textLength="6.42" lengthAdjust="spacingAndGlyphs">WE</text>
<text x="865.74" y="108.8" font-size="4.48" fill="#ffffff" textLength="6.42" lengthAdjust="spacingAndGlyphs">WB</text>
<text x="873.46" y="108.8" font-size="4.48" fill="#ffffff" textLength="6.42" lengthAdjust="spacingAndGlyphs">AH</text>
<text x="881.18" y="108.8" font-size="4.48" fill="#ffffff" textLength="6.42" lengthAdjust="spacingAndGlyphs">HE</text>
<text x="888.9" y="108.8" font-size="4.48" fill="#ffffff" textLength="6.42" lengthAdjust="spacingAndGlyphs">DX</text>
<text x="896.62" y="108.8" font-size="4.48" fill="#ffffff" textLength="6.42" lengthAdjust="spacingAndGlyphs">KX</text>
<text x="904.34" y="108.8" font-size="4.48" fill="#ffffff" textLength="6.42" lengthAdjust="spacingAndGlyphs">BD</text>
<text x="912.06" y="108.8" font-size="4.48" fill="#ffffff" textLength="6.42" lengthAdjust="spacingAndGlyphs">WA</text>
<text x="919.78" y="108.8" font-size="4.48" fill="#ffffff" textLength="6.42" lengthAdjust="spacingAndGlyphs">HD</text>
<text x="927.5" y="108.8" font-size="4.48" fill="#ffffff" textLength="6.42" lengthAdjust="spacingAndGlyphs">BH</text>
<text x="935.22" y="108.8" font-size="4.48" fill="#ffffff" textLength="6.42" lengthAdjust="spacingAndGlyphs">BK</text>
<text x="942.94" y="108.8" font-size="4.48" fill="#ffffff" textLength="6.42" lengthAdjust="spacingAndGlyphs">AN</text>
<text x="950.66" y="108.8" font-size="4.48" fill="#ffffff" textLength="6.42" lengthAdjust="spacingAndGlyphs">WB</text>
<text x="958.38" y="108.8" font-size="4.48" fill="#ffffff" textLength="6.42" lengthAdjust="spacingAndGlyphs">WB</text>
<text x="966.1" y="108.8" font-size="4.48" fill="#ffffff" textLength="6.42" lengthAdjust="spacingAndGlyphs">AA</text>
<text x="973.82" y="108.8" font-size="4.48" fill="#ffffff" textLength="6.42" lengthAdjust="spacingAndGlyphs">EW</text>
<text x="981.54" y="108.8" font-size="4.48" fill="#ffffff" textLength="6.42" lengthAdjust="spacingAndGlyphs">HB</text>
<text x="989.26" y="108.8" font-size="4.48" fill="#ffffff" textLength="6.42" lengthAdjust="spacingAndGlyphs">BR</text>
<text x="996.98" y="108.8" font-size="4.48" fill="#ffffff" textLength="6.42" lengthAdjust="spacingAndGlyphs">WB</text>
<text x="1004.7" y="108.8" font-size="4.48" fill="#ffffff" textLength="6.42" lengthAdjust="spacingAndGlyphs">WD</text>
<text x="1012.42" y="108.8" font-size="4.48" fill="#ffffff" textLength="6.42" lengthAdjust="spacingAndGlyphs">HD</text>
<text x="1020.14" y="108.8" font-size="4.48" fill="#ffffff" textLength="6.42" lengthAdjust="spacingAndGlyphs">ME</text>
<text x="1027.86" y="108.8" font-size="4.48" fill="#ffffff" textLength="6.42" lengthAdjust="spacingAndGlyphs">MH</text>
<text x="1035.58" y="108.8" font-size="4.48" fill="#ffffff" textLength="6.42" lengthAdjust="spacingAndGlyphs">EK</text>
<text x="818" y="82.2" font-size="5.38" fill="#ffffff" textLength="18" lengthAdjust="spacingAndGlyphs">HWWED</text>
<text x="755" y="110.91" font-size="6.14" fill="#ffffff" textLength="42" lengthAdjust="spacingAndGlyphs">NXMMWBKHMR</text>
<text x="755" y="118.73" font-size="6.14" fill="#ffffff" textLength="40" lengthAdjust="spacingAndGlyphs">NBRBEMXNB</text>
<text x="755" y="126.55" font-size="6.14" fill="#ffffff" textLength="26" lengthAdjust="spacingAndGlyphs">KNXXMW</text>
<text x="755" y="134.36" font-size="6.14" fill="#ffffff" textLength="30" lengthAdjust="spacingAndGlyphs">KRDMNBE</text>
<text x="755" y="142.18" font-size="6.14" fill="#ffffff" textLength="42" lengthAdjust="spacingAndGlyphs">ANWHMMMMHW</text>
<text x="755" y="150" font-size="6.14" fill="#ffffff" textLength="20" lengthAdjust="spacingAndGlyphs">MWEBE</text>
<text x="755" y="157.82" font-size="6.14" fill="#ffffff" textLength="40" lengthAdjust="spacingAndGlyphs">HKHAWHMNH</text>
<text x="755" y="165.64" font-size="6.14" fill="#ffffff" textLength="32" lengthAdjust="spacingAndGlyphs">EMBEMNR</text>
<text x="755" y="173.45" font-size="6.14" fill="#ffffff" textLength="44" lengthAdjust="spacingAndGlyphs">EEWHHWHWWD</text>
<text x="639.5" y="110.51" font-size="5.38" fill="#ffffff" textLength="6" lengthAdjust="spacingAndGlyphs">BN</text>
<text x="637.5" y="118.33" font-size="5.38" fill="#ffffff" textLength="10" lengthAdjust="spacingAndGlyphs">HAR</text>
<text x="637.5" y="126.15" font-size="5.38" fill="#ffffff" textLength="10" lengthAdjust="spacingAndGlyphs">WKM</text>
<text x="638.5" y="133.96" font-size="5.38" fill="#ffffff" textLength="8" lengthAdjust="spacingAndGlyphs">EE</text>
<text x="637.5" y="141.78" font-size="5.38" fill="#ffffff" textLength="10" lengthAdjust="spacingAndGlyphs">NMD</text>
<text x="637.5" y="149.6" font-size="5.38" fill="#ffffff" textLength="10" lengthAdjust="spacingAndGlyphs">BRE</text>
<text x="640" y="157.42" font-size="5.38" fill="#ffffff" textLength="5" lengthAdjust="spacingAndGlyphs">K</text>
<text x="640" y="165.24" font-size="5.38" fill="#ffffff" textLength="5" lengthAdjust="spacingAndGlyphs">E</text>
<text x="638" y="173.05" font-size="5.38" fill="#ffffff" textLength="9" lengthAdjust="spacingAndGlyphs">XA</text>
<text x="740" y="110.71" font-size="5.89" fill="#ffffff" textLength="1.7" lengthAdjust="spacingAndGlyphs">1</text>
<text x="622" y="110.61" font-size="5.63" fill="#ffffff" textLength="2.3" lengthAdjust="spacingAndGlyphs">1</text>
<text x="740" y="118.53" font-size="5.89" fill="#ffffff" textLength="1.7" lengthAdjust="spacingAndGlyphs">2</text>
<text x="622" y="118.43" font-size="5.63" fill="#ffffff" textLength="2.3" lengthAdjust="spacingAndGlyphs">2</text>
<text x="740" y="126.35" font-size="5.89" fill="#ffffff" textLength="1.7" lengthAdjust="spacingAndGlyphs">3</text>
<text x="622" y="126.25" font-size="5.63" fill="#ffffff" textLength="2.3" lengthAdjust="spacingAndGlyphs">3</text>
<text x="740" y="134.16" font-size="5.89" fill="#ffffff" textLength="1.7" lengthAdjust="spacingAndGlyphs">4</text>
<text x="622" y="134.06" font-size="5.63" fill="#ffffff" textLength="2.3" lengthAdjust="spacingAndGlyphs">4</text>
<text x="740" y="141.98" font-size="5.89" fill="#ffffff" textLength="1.7" lengthAdjust="spacingAndGlyphs">5</text>
<text x="622" y="141.88" font-size="5.63" fill="#ffffff" textLength="2.3" lengthAdjust="spacingAndGlyphs">5</text>
<text x="740" y="149.8" font-size="5.89" fill="#ffffff" textLength="1.7" lengthAdjust="spacingAndGlyphs">6</text>
<text x="622" y="149.7" font-size="5.63" fill="#ffffff" textLength="2.3" lengthAdjust="spacingAndGlyphs">6</text>
<text x="740" y="157.62" font-size="5.89" fill="#ffffff" textLength="1.7" lengthAdjust="spacingAndGlyphs">7</text>
<text x="622" y="157.52" font-size="5.63" fill="#ffffff" textLength="2.3" lengthAdjust="spacingAndGlyphs">7</text>
<text x="740" y="165.44" font-size="5.89" fill="#ffffff" textLength="1.7" lengthAdjust="spacingAndGlyphs">8</text>
<text x="622" y="165.34" font-size="5.63" fill="#ffffff" textLength="2.3" lengthAdjust="spacingAndGlyphs">8</text>
<text x="740" y="173.25" font-size="5.89" fill="#ffffff" textLength="1.7" lengthAdjust="spacingAndGlyphs">9</text>
<text x="622" y="173.15" font-size="5.63" fill="#ffffff" textLength="2.3" lengthAdjust="spacingAndGlyphs">9</text>
<text x="633" y="213.5" font-size="5.63" fill="#ffffff" textLength="20" lengthAdjust="spacingAndGlyphs">XEXMX</text>
<text x="655.3" y="212.7" font-size="6.4" fill="#ffffff" textLength="6.7" lengthAdjust="spacingAndGlyphs">MH</text>
<text x="655.3" y="217.7" font-size="5.89" fill="#ffffff" textLength="4.7" lengthAdjust="spacingAndGlyphs">M</text>
<text x="673" y="211.8" font-size="5.12" fill="#ffffff" textLength="4.5" lengthAdjust="spacingAndGlyphs">E</text>
<text x="687" y="211.8" font-size="5.12" fill="#ffffff" textLength="4.5" lengthAdjust="spacingAndGlyphs">W</text>
<text x="700.5" y="211.8" font-size="5.12" fill="#ffffff" textLength="4.5" lengthAdjust="spacingAndGlyphs">E</text>
<text x="714.4" y="211.8" font-size="5.12" fill="#ffffff" textLength="4.5" lengthAdjust="spacingAndGlyphs">M</text>
<text x="655.8" y="233.25" font-size="6.66" fill="#ffffff" textLength="4.7" lengthAdjust="spacingAndGlyphs">H</text>
<text x="655.8" y="244.25" font-size="6.66" fill="#ffffff" textLength="4.7" lengthAdjust="spacingAndGlyphs">E</text>
<text x="655.8" y="263.25" font-size="6.66" fill="#ffffff" textLength="4.7" lengthAdjust="spacingAndGlyphs">M</text>
<text x="655.8" y="282.25" font-size="6.66" fill="#ffffff" textLength="4.7" lengthAdjust="spacingAndGlyphs">W</text>
<text x="664.5" y="218.5" font-size="5.12" fill="#ffffff" textLength="20" lengthAdjust="spacingAndGlyphs">MRWREE</text>
<text x="689.5" y="218.5" font-size="5.12" fill="#ffffff" textLength="22" lengthAdjust="spacingAndGlyphs">HEEBXH</text>
<text x="716.5" y="218.5" font-size="5.12" fill="#ffffff" textLength="20" lengthAdjust="spacingAndGlyphs">XWEAEW</text>
<text x="739.3" y="215.35" font-size="6.66" fill="#ffffff" textLength="6.7" lengthAdjust="spacingAndGlyphs">M</text>
<text x="771.5" y="214.5" font-size="5.76" fill="#ffffff" textLength="5" lengthAdjust="spacingAndGlyphs">W</text>
<text x="790.5" y="214.5" font-size="5.76" fill="#ffffff" textLength="5" lengthAdjust="spacingAndGlyphs">E</text>
<text x="807.5" y="214.5" font-size="5.76" fill="#ffffff" textLength="5" lengthAdjust="spacingAndGlyphs">B</text>
<text x="827.5" y="214.5" font-size="5.76" fill="#ffffff" textLength="5" lengthAdjust="spacingAndGlyphs">H</text>
<text x="905" y="215" font-size="6.4" fill="#ffffff" textLength="4.5" lengthAdjust="spacingAndGlyphs">M</text>
<text x="922" y="215" font-size="6.4" fill="#ffffff" textLength="4.5" lengthAdjust="spacingAndGlyphs">E</text>
<text x="942" y="215" font-size="6.4" fill="#ffffff" textLength="4.5" lengthAdjust="spacingAndGlyphs">W</text>
<text x="850.3" y="223.8" font-size="4.48" fill="#ffffff" textLength="6.42" lengthAdjust="spacingAndGlyphs">KB</text>
<text x="858.02" y="223.8" font-size="4.48" fill="#ffffff" textLength="6.42" lengthAdjust="spacingAndGlyphs">AB</text>
<text x="865.74" y="223.8" font-size="4.48" fill="#ffffff" textLength="6.42" lengthAdjust="spacingAndGlyphs">MH</text>
<text x="873.46" y="223.8" font-size="4.48" fill="#ffffff" textLength="6.42" lengthAdjust="spacingAndGlyphs">MB</text>
<text x="881.18" y="223.8" font-size="4.48" fill="#ffffff" textLength="6.42" lengthAdjust="spacingAndGlyphs">KK</text>
<text x="888.9" y="223.8" font-size="4.48" fill="#ffffff" textLength="6.42" lengthAdjust="spacingAndGlyphs">NM</text>
<text x="896.62" y="223.8" font-size="4.48" fill="#ffffff" textLength="6.42" lengthAdjust="spacingAndGlyphs">NH</text>
<text x="904.34" y="223.8" font-size="4.48" fill="#ffffff" textLength="6.42" lengthAdjust="spacingAndGlyphs">NW</text>
<text x="912.06" y="223.8" font-size="4.48" fill="#ffffff" textLength="6.42" lengthAdjust="spacingAndGlyphs">EN</text>
<text x="919.78" y="223.8" font-size="4.48" fill="#ffffff" textLength="6.42" lengthAdjust="spacingAndGlyphs">NM</text>
<text x="927.5" y="223.8" font-size="4.48" fill="#ffffff" textLength="6.42" lengthAdjust="spacingAndGlyphs">MH</text>
<text x="935.22" y="223.8" font-size="4.48" fill="#ffffff" textLength="6.42" lengthAdjust="spacingAndGlyphs">NB</text>
<text x="942.94" y="223.8" font-size="4.48" fill="#ffffff" textLength="6.42" lengthAdjust="spacingAndGlyphs">EE</text>
<text x="950.66" y="223.8" font-size="4.48" fill="#ffffff" textLength="6.42" lengthAdjust="spacingAndGlyphs">MR</text>
<text x="958.38" y="223.8" font-size="4.48" fill="#ffffff" textLength="6.42" lengthAdjust="spacingAndGlyphs">ED</text>
<text x="966.1" y="223.8" font-size="4.48" fill="#ffffff" textLength="6.42" lengthAdjust="spacingAndGlyphs">XA</text>
<text x="973.82" y="223.8" font-size="4.48" fill="#ffffff" textLength="6.42" lengthAdjust="spacingAndGlyphs">RB</text>
<text x="981.54" y="223.8" font-size="4.48" fill="#ffffff" textLength="6.42" lengthAdjust="spacingAndGlyphs">NW</text>
<text x="989.26" y="223.8" font-size="4.48" fill="#ffffff" textLength="6.42" lengthAdjust="spacingAndGlyphs">EH</text>
<text x="996.98" y="223.8" font-size="4.48" fill="#ffffff" textLength="6.42" lengthAdjust="spacingAndGlyphs">BN</text>
<text x="1004.7" y="223.8" font-size="4.48" fill="#ffffff" textLength="6.42" lengthAdjust="spacingAndGlyphs">NM</text>
<text x="1012.42" y="223.8" font-size="4.48" fill="#ffffff" textLength="6.42" lengthAdjust="spacingAndGlyphs">HK</text>
<text x="1020.14" y="223.8" font-size="4.48" fill="#ffffff" textLength="6.42" lengthAdjust="spacingAndGlyphs">MN</text>
<text x="1027.86" y="223.8" font-size="4.48" fill="#ffffff" textLength="6.42" lengthAdjust="spacingAndGlyphs">KN</text>
<text x="1035.58" y="223.8" font-size="4.48" fill="#ffffff" textLength="6.42" lengthAdjust="spacingAndGlyphs">WH</text>
<text x="801" y="200.7" font-size="5.38" fill="#ffffff" textLength="18" lengthAdjust="spacingAndGlyphs">WAWHW</text>
<text x="755" y="225.91" font-size="6.14" fill="#ffffff" textLength="42" lengthAdjust="spacingAndGlyphs">XERWHHMBHA</text>
<text x="755" y="233.73" font-size="6.14" fill="#ffffff" textLength="40" lengthAdjust="spacingAndGlyphs">ERHWXREHN</text>
<text x="755" y="241.55" font-size="6.14" fill="#ffffff" textLength="26" lengthAdjust="spacingAndGlyphs">BHMHAB</text>
<text x="755" y="257.18" font-size="6.14" fill="#ffffff" textLength="28" lengthAdjust="spacingAndGlyphs">XBBEDH</text>
<text x="755" y="265" font-size="6.14" fill="#ffffff" textLength="42" lengthAdjust="spacingAndGlyphs">NENRNHXHMW</text>
<text x="755" y="272.82" font-size="6.14" fill="#ffffff" textLength="20" lengthAdjust="spacingAndGlyphs">KXKBM</text>
<text x="755" y="280.64" font-size="6.14" fill="#ffffff" textLength="40" lengthAdjust="spacingAndGlyphs">ABEEABEMA</text>
<text x="755" y="288.45" font-size="6.14" fill="#ffffff" textLength="34" lengthAdjust="spacingAndGlyphs">HHMMADBH</text>
<text x="755" y="296.27" font-size="6.14" fill="#ffffff" textLength="44" lengthAdjust="spacingAndGlyphs">XHBRRWKRNB</text>
<text x="640" y="225.51" font-size="5.38" fill="#ffffff" textLength="5" lengthAdjust="spacingAndGlyphs">R</text>
<text x="637.5" y="233.33" font-size="5.38" fill="#ffffff" textLength="10" lengthAdjust="spacingAndGlyphs">MNW</text>
<text x="637.5" y="241.15" font-size="5.38" fill="#ffffff" textLength="10" lengthAdjust="spacingAndGlyphs">ABR</text>
<text x="639.5" y="248.96" font-size="5.38" fill="#ffffff" textLength="6" lengthAdjust="spacingAndGlyphs">WK</text>
<text x="638.5" y="256.78" font-size="5.38" fill="#ffffff" textLength="8" lengthAdjust="spacingAndGlyphs">BB</text>
<text x="637.5" y="264.6" font-size="5.38" fill="#ffffff" textLength="10" lengthAdjust="spacingAndGlyphs">RMB</text>
<text x="640" y="272.42" font-size="5.38" fill="#ffffff" textLength="5" lengthAdjust="spacingAndGlyphs">R</text>
<text x="640" y="280.24" font-size="5.38" fill="#ffffff" textLength="5" lengthAdjust="spacingAndGlyphs">B</text>
<text x="638.5" y="288.05" font-size="5.38" fill="#ffffff" textLength="8" lengthAdjust="spacingAndGlyphs">XB</text>
<text x="740" y="225.71" font-size="5.89" fill="#ffffff" textLength="1.7" lengthAdjust="spacingAndGlyphs">1</text>
<text x="622" y="225.61" font-size="5.63" fill="#ffffff" textLength="2.3" lengthAdjust="spacingAndGlyphs">1</text>
<text x="740" y="233.53" font-size="5.89" fill="#ffffff" textLength="1.7" lengthAdjust="spacingAndGlyphs">2</text>
<text x="622" y="233.43" font-size="5.63" fill="#ffffff" textLength="2.3" lengthAdjust="spacingAndGlyphs">2</text>
<text x="740" y="241.35" font-size="5.89" fill="#ffffff" textLength="1.7" lengthAdjust="spacingAndGlyphs">3</text>
<text x="622" y="241.25" font-size="5.63" fill="#ffffff" textLength="2.3" lengthAdjust="spacingAndGlyphs">3</text>
<text x="740" y="249.16" font-size="5.89" fill="#ffffff" textLength="1.7" lengthAdjust="spacingAndGlyphs">4</text>
<text x="622" y="249.06" font-size="5.63" fill="#ffffff" textLength="2.3" lengthAdjust="spacingAndGlyphs">4</text>
<text x="740" y="256.98" font-size="5.89" fill="#ffffff" textLength="1.7" lengthAdjust="spacingAndGlyphs">5</text>
<text x="622" y="256.88" font-size="5.63" fill="#ffffff" textLength="2.3" lengthAdjust="spacingAndGlyphs">5</text>
<text x="740" y="264.8" font-size="5.89" fill="#ffffff" textLength="1.7" lengthAdjust="spacingAndGlyphs">6</text>
<text x="622" y="264.7" font-size="5.63" fill="#ffffff" textLength="2.3" lengthAdjust="spacingAndGlyphs">6</text>
<text x="740" y="272.62" font-size="5.89" fill="#ffffff" textLength="1.7" lengthAdjust="spacingAndGlyphs">7</text>
<text x="622" y="272.52" font-size="5.63" fill="#ffffff" textLength="2.3" lengthAdjust="spacingAndGlyphs">7</text>
<text x="740" y="280.44" font-size="5.89" fill="#ffffff" textLength="1.7" lengthAdjust="spacingAndGlyphs">8</text>
<text x="622" y="280.34" font-size="5.63" fill="#ffffff" textLength="2.3" lengthAdjust="spacingAndGlyphs">8</text>
<text x="740" y="288.25" font-size="5.89" fill="#ffffff" textLength="1.7" lengthAdjust="spacingAndGlyphs">9</text>
<text x="622" y="288.15" font-size="5.63" fill="#ffffff" textLength="2.3" lengthAdjust="spacingAndGlyphs">9</text>
<text x="633" y="335.5" font-size="5.63" fill="#ffffff" textLength="20" lengthAdjust="spacingAndGlyphs">RHHMA</text>
<text x="655.3" y="334.7" font-size="6.4" fill="#ffffff" textLength="6.7" lengthAdjust="spacingAndGlyphs">MH</text>
<text x="655.3" y="339.7" font-size="5.89" fill="#ffffff" textLength="4.7" lengthAdjust="spacingAndGlyphs">M</text>
<text x="673" y="333.8" font-size="5.12" fill="#ffffff" textLength="4.5" lengthAdjust="spacingAndGlyphs">B</text>
<text x="687" y="333.8" font-size="5.12" fill="#ffffff" textLength="4.5" lengthAdjust="spacingAndGlyphs">R</text>
<text x="700.5" y="333.8" font-size="5.12" fill="#ffffff" textLength="4.5" lengthAdjust="spacingAndGlyphs">N</text>
<text x="714.4" y="333.8" font-size="5.12" fill="#ffffff" textLength="4.5" lengthAdjust="spacingAndGlyphs">W</text>
<text x="655.8" y="354.25" font-size="6.66" fill="#ffffff" textLength="4.7" lengthAdjust="spacingAndGlyphs">H</text>
<text x="655.8" y="364.25" font-size="6.66" fill="#ffffff" textLength="4.7" lengthAdjust="spacingAndGlyphs">E</text>
<text x="655.8" y="380.25" font-size="6.66" fill="#ffffff" textLength="4.7" lengthAdjust="spacingAndGlyphs">M</text>
<text x="655.8" y="396.25" font-size="6.66" fill="#ffffff" textLength="4.7" lengthAdjust="spacingAndGlyphs">W</text>
<text x="664.5" y="340.5" font-size="5.12" fill="#ffffff" textLength="20" lengthAdjust="spacingAndGlyphs">XHKRWK</text>
<text x="689.5" y="340.5" font-size="5.12" fill="#ffffff" textLength="22" lengthAdjust="spacingAndGlyphs">EDDEDH</text>
<text x="716.5" y="340.5" font-size="5.12" fill="#ffffff" textLength="20" lengthAdjust="spacingAndGlyphs">KREMRW</text>
<text x="739.3" y="337.35" font-size="6.66" fill="#ffffff" textLength="6.7" lengthAdjust="spacingAndGlyphs">M</text>
<text x="771.5" y="336.5" font-size="5.76" fill="#ffffff" textLength="5" lengthAdjust="spacingAndGlyphs">M</text>
<text x="790.5" y="336.5" font-size="5.76" fill="#ffffff" textLength="5" lengthAdjust="spacingAndGlyphs">E</text>
<text x="807.5" y="336.5" font-size="5.76" fill="#ffffff" textLength="5" lengthAdjust="spacingAndGlyphs">W</text>
<text x="827.5" y="336.5" font-size="5.76" fill="#ffffff" textLength="5" lengthAdjust="spacingAndGlyphs">X</text>
<text x="905" y="337" font-size="6.4" fill="#ffffff" textLength="4.5" lengthAdjust="spacingAndGlyphs">H</text>
<text x="922" y="337" font-size="6.4" fill="#ffffff" textLength="4.5" lengthAdjust="spacingAndGlyphs">H</text>
<text x="942" y="337" font-size="6.4" fill="#ffffff" textLength="4.5" lengthAdjust="spacingAndGlyphs">B</text>
<text x="850.3" y="345.8" font-size="4.48" fill="#ffffff" textLength="6.42" lengthAdjust="spacingAndGlyphs">WM</text>
<text x="858.02" y="345.8" font-size="4.48" fill="#ffffff" textLength="6.42" lengthAdjust="spacingAndGlyphs">DE</text>
<text x="865.74" y="345.8" font-size="4.48" fill="#ffffff" textLength="6.42" lengthAdjust="spacingAndGlyphs">XA</text>
<text x="873.46" y="345.8" font-size="4.48" fill="#ffffff" textLength="6.42" lengthAdjust="spacingAndGlyphs">EN</text>
<text x="881.18" y="345.8" font-size="4.48" fill="#ffffff" textLength="6.42" lengthAdjust="spacingAndGlyphs">ME</text>
<text x="888.9" y="345.8" font-size="4.48" fill="#ffffff" textLength="6.42" lengthAdjust="spacingAndGlyphs">WN</text>
<text x="896.62" y="345.8" font-size="4.48" fill="#ffffff" textLength="6.42" lengthAdjust="spacingAndGlyphs">MB</text>
<text x="904.34" y="345.8" font-size="4.48" fill="#ffffff" textLength="6.42" lengthAdjust="spacingAndGlyphs">RB</text>
<text x="912.06" y="345.8" font-size="4.48" fill="#ffffff" textLength="6.42" lengthAdjust="spacingAndGlyphs">KW</text>
<text x="919.78" y="345.8" font-size="4.48" fill="#ffffff" textLength="6.42" lengthAdjust="spacingAndGlyphs">BM</text>
<text x="927.5" y="345.8" font-size="4.48" fill="#ffffff" textLength="6.42" lengthAdjust="spacingAndGlyphs">DX</text>
<text x="935.22" y="345.8" font-size="4.48" fill="#ffffff" textLength="6.42" lengthAdjust="spacingAndGlyphs">DW</text>
<text x="942.94" y="345.8" font-size="4.48" fill="#ffffff" textLength="6.42" lengthAdjust="spacingAndGlyphs">HK</text>
<text x="950.66" y="345.8" font-size="4.48" fill="#ffffff" textLength="6.42" lengthAdjust="spacingAndGlyphs">KR</text>
<text x="958.38" y="345.8" font-size="4.48" fill="#ffffff" textLength="6.42" lengthAdjust="spacingAndGlyphs">HM</text>
<text x="966.1" y="345.8" font-size="4.48" fill="#ffffff" textLength="6.42" lengthAdjust="spacingAndGlyphs">RE</text>
<text x="973.82" y="345.8" font-size="4.48" fill="#ffffff" textLength="6.42" lengthAdjust="spacingAndGlyphs">AA</text>
<text x="981.54" y="345.8" font-size="4.48" fill="#ffffff" textLength="6.42" lengthAdjust="spacingAndGlyphs">XW</text>
<text x="989.26" y="345.8" font-size="4.48" fill="#ffffff" textLength="6.42" lengthAdjust="spacingAndGlyphs">DE</text>
<text x="996.98" y="345.8" font-size="4.48" fill="#ffffff" textLength="6.42" lengthAdjust="spacingAndGlyphs">EK</text>
<text x="1004.7" y="345.8" font-size="4.48" fill="#ffffff" textLength="6.42" lengthAdjust="spacingAndGlyphs">MA</text>
<text x="1012.42" y="345.8" font-size="4.48" fill="#ffffff" textLength="6.42" lengthAdjust="spacingAndGlyphs">MB</text>
<text x="1020.14" y="345.8" font-size="4.48" fill="#ffffff" textLength="6.42" lengthAdjust="spacingAndGlyphs">WR</text>
<text x="1027.86" y="345.8" font-size="4.48" fill="#ffffff" textLength="6.42" lengthAdjust="spacingAndGlyphs">EX</text>
<text x="1035.58" y="345.8" font-size="4.48" fill="#ffffff" textLength="6.42" lengthAdjust="spacingAndGlyphs">MB</text>
<text x="810" y="322.2" font-size="5.38" fill="#ffffff" textLength="18" lengthAdjust="spacingAndGlyphs">RBNMW</text>
<text x="755" y="348.3" font-size="6.14" fill="#ffffff" textLength="42" lengthAdjust="spacingAndGlyphs">MMDDXBNMAW</text>
<text x="755" y="356.25" font-size="6.14" fill="#ffffff" textLength="36" lengthAdjust="spacingAndGlyphs">NDNWBNMX</text>
<text x="755" y="368" font-size="6.14" fill="#ffffff" textLength="48" lengthAdjust="spacingAndGlyphs">BMWNEHMHWMX</text>
<text x="755" y="379.7" font-size="6.14" fill="#ffffff" textLength="20" lengthAdjust="spacingAndGlyphs">WRMHB</text>
<text x="755" y="387.15" font-size="6.14" fill="#ffffff" textLength="32" lengthAdjust="spacingAndGlyphs">BBWRBRX</text>
<text x="755" y="394.95" font-size="6.14" fill="#ffffff" textLength="40" lengthAdjust="spacingAndGlyphs">EXHWMBWDW</text>
<text x="755" y="402.65" font-size="6.14" fill="#ffffff" textLength="36" lengthAdjust="spacingAndGlyphs">EBNARDNM</text>
<text x="755" y="410.45" font-size="6.14" fill="#ffffff" textLength="20" lengthAdjust="spacingAndGlyphs">WWWRH</text>
<text x="640" y="347.9" font-size="5.38" fill="#ffffff" textLength="5" lengthAdjust="spacingAndGlyphs">E</text>
<text x="640" y="355.85" font-size="5.38" fill="#ffffff" textLength="5" lengthAdjust="spacingAndGlyphs">W</text>
<text x="638.5" y="367.6" font-size="5.38" fill="#ffffff" textLength="8" lengthAdjust="spacingAndGlyphs">DD</text>
<text x="638.5" y="379.3" font-size="5.38" fill="#ffffff" textLength="8" lengthAdjust="spacingAndGlyphs">HH</text>
<text x="640" y="386.75" font-size="5.38" fill="#ffffff" textLength="5" lengthAdjust="spacingAndGlyphs">H</text>
<text x="640" y="394.55" font-size="5.38" fill="#ffffff" textLength="5" lengthAdjust="spacingAndGlyphs">H</text>
<text x="637.5" y="402.25" font-size="5.38" fill="#ffffff" textLength="10" lengthAdjust="spacingAndGlyphs">EDB</text>
<text x="638" y="410.05" font-size="5.38" fill="#ffffff" textLength="9" lengthAdjust="spacingAndGlyphs">WM</text>
<text x="740" y="348.1" font-size="5.89" fill="#ffffff" textLength="1.7" lengthAdjust="spacingAndGlyphs">1</text>
<text x="622" y="348" font-size="5.63" fill="#ffffff" textLength="2.3" lengthAdjust="spacingAndGlyphs">1</text>
<text x="740" y="356.05" font-size="5.89" fill="#ffffff" textLength="1.7" lengthAdjust="spacingAndGlyphs">2</text>
<text x="622" y="355.95" font-size="5.63" fill="#ffffff" textLength="2.3" lengthAdjust="spacingAndGlyphs">2</text>
<text x="740" y="367.8" font-size="5.89" fill="#ffffff" textLength="1.7" lengthAdjust="spacingAndGlyphs">3</text>
<text x="622" y="367.7" font-size="5.63" fill="#ffffff" textLength="2.3" lengthAdjust="spacingAndGlyphs">3</text>
<text x="740" y="379.5" font-size="5.89" fill="#ffffff" textLength="1.7" lengthAdjust="spacingAndGlyphs">4</text>
<text x="622" y="379.4" font-size="5.63" fill="#ffffff" textLength="2.3" lengthAdjust="spacingAndGlyphs">4</text>
<text x="740" y="386.95" font-size="5.89" fill="#ffffff" textLength="1.7" lengthAdjust="spacingAndGlyphs">5</text>
<text x="622" y="386.85" font-size="5.63" fill="#ffffff" textLength="2.3" lengthAdjust="spacingAndGlyphs">5</text>
<text x="740" y="394.75" font-size="5.89" fill="#ffffff" textLength="1.7" lengthAdjust="spacingAndGlyphs">6</text>
<text x="622" y="394.65" font-size="5.63" fill="#ffffff" textLength="2.3" lengthAdjust="spacingAndGlyphs">6</text>
<text x="740" y="402.45" font-size="5.89" fill="#ffffff" textLength="1.7" lengthAdjust="spacingAndGlyphs">7</text>
<text x="622" y="402.35" font-size="5.63" fill="#ffffff" textLength="2.3" lengthAdjust="spacingAndGlyphs">7</text>
<text x="740" y="410.25" font-size="5.89" fill="#ffffff" textLength="1.7" lengthAdjust="spacingAndGlyphs">8</text>
<text x="622" y="410.15" font-size="5.63" fill="#ffffff" textLength="2.3" lengthAdjust="spacingAndGlyphs">8</text>
<text x="740" y="418.25" font-size="5.89" fill="#ffffff" textLength="1.7" lengthAdjust="spacingAndGlyphs">9</text>
<text x="622" y="418.15" font-size="5.63" fill="#ffffff" textLength="2.3" lengthAdjust="spacingAndGlyphs">9</text>
<text x="633" y="449.5" font-size="5.63" fill="#ffffff" textLength="20" lengthAdjust="spacingAndGlyphs">DHBHR</text>
<text x="655.3" y="448.7" font-size="6.4" fill="#ffffff" textLength="6.7" lengthAdjust="spacingAndGlyphs">MH</text>
<text x="655.3" y="453.7" font-size="5.89" fill="#ffffff" textLength="4.7" lengthAdjust="spacingAndGlyphs">M</text>
<text x="673" y="447.8" font-size="5.12" fill="#ffffff" textLength="4.5" lengthAdjust="spacingAndGlyphs">M</text>
<text x="687" y="447.8" font-size="5.12" fill="#ffffff" textLength="4.5" lengthAdjust="spacingAndGlyphs">E</text>
<text x="700.5" y="447.8" font-size="5.12" fill="#ffffff" textLength="4.5" lengthAdjust="spacingAndGlyphs">E</text>
<text x="714.4" y="447.8" font-size="5.12" fill="#ffffff" textLength="4.5" lengthAdjust="spacingAndGlyphs">B</text>
<text x="655.8" y="468.25" font-size="6.66" fill="#ffffff" textLength="4.7" lengthAdjust="spacingAndGlyphs">H</text>
<text x="655.8" y="479.25" font-size="6.66" fill="#ffffff" textLength="4.7" lengthAdjust="spacingAndGlyphs">E</text>
<text x="655.8" y="497.25" font-size="6.66" fill="#ffffff" textLength="4.7" lengthAdjust="spacingAndGlyphs">M</text>
<text x="655.8" y="516.25" font-size="6.66" fill="#ffffff" textLength="4.7" lengthAdjust="spacingAndGlyphs">W</text>
<text x="664.5" y="454.5" font-size="5.12" fill="#ffffff" textLength="20" lengthAdjust="spacingAndGlyphs">BNRENR</text>
<text x="689.5" y="454.5" font-size="5.12" fill="#ffffff" textLength="22" lengthAdjust="spacingAndGlyphs">HEXWWM</text>
<text x="716.5" y="454.5" font-size="5.12" fill="#ffffff" textLength="20" lengthAdjust="spacingAndGlyphs">MKMWHM</text>
<text x="739.3" y="451.35" font-size="6.66" fill="#ffffff" textLength="6.7" lengthAdjust="spacingAndGlyphs">D</text>
<text x="771.5" y="450.5" font-size="5.76" fill="#ffffff" textLength="5" lengthAdjust="spacingAndGlyphs">N</text>
<text x="790.5" y="450.5" font-size="5.76" fill="#ffffff" textLength="5" lengthAdjust="spacingAndGlyphs">B</text>
<text x="807.5" y="450.5" font-size="5.76" fill="#ffffff" textLength="5" lengthAdjust="spacingAndGlyphs">E</text>
<text x="827.5" y="450.5" font-size="5.76" fill="#ffffff" textLength="5" lengthAdjust="spacingAndGlyphs">M</text>
<text x="905" y="451" font-size="6.4" fill="#ffffff" textLength="4.5" lengthAdjust="spacingAndGlyphs">A</text>
<text x="922" y="451" font-size="6.4" fill="#ffffff" textLength="4.5" lengthAdjust="spacingAndGlyphs">H</text>
<text x="942" y="451" font-size="6.4" fill="#ffffff" textLength="4.5" lengthAdjust="spacingAndGlyphs">A</text>
<text x="850.3" y="459.5" font-size="4.48" fill="#ffffff" textLength="6.42" lengthAdjust="spacingAndGlyphs">MA</text>
<text x="858.02" y="459.5" font-size="4.48" fill="#ffffff" textLength="6.42" lengthAdjust="spacingAndGlyphs">AM</text>
<text x="865.74" y="459.5" font-size="4.48" fill="#ffffff" textLength="6.42" lengthAdjust="spacingAndGlyphs">HE</text>
<text x="873.46" y="459.5" font-size="4.48" fill="#ffffff" textLength="6.42" lengthAdjust="spacingAndGlyphs">MD</text>
<text x="881.18" y="459.5" font-size="4.48" fill="#ffffff" textLength="6.42" lengthAdjust="spacingAndGlyphs">RE</text>
<text x="888.9" y="459.5" font-size="4.48" fill="#ffffff" textLength="6.42" lengthAdjust="spacingAndGlyphs">BM</text>
<text x="896.62" y="459.5" font-size="4.48" fill="#ffffff" textLength="6.42" lengthAdjust="spacingAndGlyphs">MB</text>
<text x="904.34" y="459.5" font-size="4.48" fill="#ffffff" textLength="6.42" lengthAdjust="spacingAndGlyphs">EB</text>
<text x="912.06" y="459.5" font-size="4.48" fill="#ffffff" textLength="6.42" lengthAdjust="spacingAndGlyphs">RW</text>
<text x="919.78" y="459.5" font-size="4.48" fill="#ffffff" textLength="6.42" lengthAdjust="spacingAndGlyphs">RH</text>
<text x="927.5" y="459.5" font-size="4.48" fill="#ffffff" textLength="6.42" lengthAdjust="spacingAndGlyphs">WD</text>
<text x="935.22" y="459.5" font-size="4.48" fill="#ffffff" textLength="6.42" lengthAdjust="spacingAndGlyphs">NX</text>
<text x="942.94" y="459.5" font-size="4.48" fill="#ffffff" textLength="6.42" lengthAdjust="spacingAndGlyphs">RB</text>
<text x="950.66" y="459.5" font-size="4.48" fill="#ffffff" textLength="6.42" lengthAdjust="spacingAndGlyphs">AE</text>
<text x="958.38" y="459.5" font-size="4.48" fill="#ffffff" textLength="6.42" lengthAdjust="spacingAndGlyphs">EB</text>
<text x="966.1" y="459.5" font-size="4.48" fill="#ffffff" textLength="6.42" lengthAdjust="spacingAndGlyphs">MM</text>
<text x="973.82" y="459.5" font-size="4.48" fill="#ffffff" textLength="6.42" lengthAdjust="spacingAndGlyphs">EB</text>
<text x="981.54" y="459.5" font-size="4.48" fill="#ffffff" textLength="6.42" lengthAdjust="spacingAndGlyphs">WB</text>
<text x="989.26" y="459.5" font-size="4.48" fill="#ffffff" textLength="6.42" lengthAdjust="spacingAndGlyphs">HN</text>
<text x="996.98" y="459.5" font-size="4.48" fill="#ffffff" textLength="6.42" lengthAdjust="spacingAndGlyphs">DW</text>
<text x="1004.7" y="459.5" font-size="4.48" fill="#ffffff" textLength="6.42" lengthAdjust="spacingAndGlyphs">WN</text>
<text x="1012.42" y="459.5" font-size="4.48" fill="#ffffff" textLength="6.42" lengthAdjust="spacingAndGlyphs">KW</text>
<text x="1020.14" y="459.5" font-size="4.48" fill="#ffffff" textLength="6.42" lengthAdjust="spacingAndGlyphs">BA</text>
<text x="1027.86" y="459.5" font-size="4.48" fill="#ffffff" textLength="6.42" lengthAdjust="spacingAndGlyphs">DD</text>
<text x="1035.58" y="459.5" font-size="4.48" fill="#ffffff" textLength="6.42" lengthAdjust="spacingAndGlyphs">RR</text>
<text x="813" y="437.9" font-size="5.38" fill="#ffffff" textLength="18" lengthAdjust="spacingAndGlyphs">MXDWM</text>
<text x="755" y="462.15" font-size="6.14" fill="#ffffff" textLength="42" lengthAdjust="spacingAndGlyphs">HKKBEWXHAH</text>
<text x="755" y="470.35" font-size="6.14" fill="#ffffff" textLength="48" lengthAdjust="spacingAndGlyphs">BNEXBKABAXE</text>
<text x="755" y="478.05" font-size="6.14" fill="#ffffff" textLength="56" lengthAdjust="spacingAndGlyphs">REMBMBEMRAWWR</text>
<text x="755" y="485.85" font-size="6.14" fill="#ffffff" textLength="30" lengthAdjust="spacingAndGlyphs">ENEBRXM</text>
<text x="755" y="493.3" font-size="6.14" fill="#ffffff" textLength="50" lengthAdjust="spacingAndGlyphs">MHBDMNWBWWMB</text>
<text x="755" y="500.95" font-size="6.14" fill="#ffffff" textLength="16" lengthAdjust="spacingAndGlyphs">MHHX</text>
<text x="755" y="509.05" font-size="6.14" fill="#ffffff" textLength="36" lengthAdjust="spacingAndGlyphs">HXNNHHBW</text>
<text x="755" y="517.05" font-size="6.14" fill="#ffffff" textLength="32" lengthAdjust="spacingAndGlyphs">MNXWDNR</text>
<text x="755" y="524.95" font-size="6.14" fill="#ffffff" textLength="54" lengthAdjust="spacingAndGlyphs">BHHBDEMRXMMDH</text>
<text x="755" y="532.75" font-size="6.14" fill="#ffffff" textLength="46" lengthAdjust="spacingAndGlyphs">RAXWXXMBDWM</text>
<text x="755" y="540.3" font-size="6.14" fill="#ffffff" textLength="30" lengthAdjust="spacingAndGlyphs">EWBBRXB</text>
<text x="640" y="461.75" font-size="5.38" fill="#ffffff" textLength="5" lengthAdjust="spacingAndGlyphs">E</text>
<text x="640" y="469.95" font-size="5.38" fill="#ffffff" textLength="5" lengthAdjust="spacingAndGlyphs">X</text>
<text x="638" y="477.65" font-size="5.38" fill="#ffffff" textLength="9" lengthAdjust="spacingAndGlyphs">WW</text>
<text x="638" y="485.45" font-size="5.38" fill="#ffffff" textLength="9" lengthAdjust="spacingAndGlyphs">AB</text>
<text x="638.5" y="492.9" font-size="5.38" fill="#ffffff" textLength="8" lengthAdjust="spacingAndGlyphs">EM</text>
<text x="638.5" y="500.55" font-size="5.38" fill="#ffffff" textLength="8" lengthAdjust="spacingAndGlyphs">EM</text>
<text x="640" y="508.65" font-size="5.38" fill="#ffffff" textLength="5" lengthAdjust="spacingAndGlyphs">D</text>
<text x="640" y="516.65" font-size="5.38" fill="#ffffff" textLength="5" lengthAdjust="spacingAndGlyphs">B</text>
<text x="638.5" y="524.55" font-size="5.38" fill="#ffffff" textLength="8" lengthAdjust="spacingAndGlyphs">EW</text>
<text x="635.5" y="532.35" font-size="5.38" fill="#ffffff" textLength="14" lengthAdjust="spacingAndGlyphs">EDEX</text>
<text x="642.5" y="539.9" font-size="5.38" fill="#ffffff" textLength="0" lengthAdjust="spacingAndGlyphs">H</text>
<text x="740" y="461.95" font-size="5.89" fill="#ffffff" textLength="1.7" lengthAdjust="spacingAndGlyphs">1</text>
<text x="622" y="461.85" font-size="5.63" fill="#ffffff" textLength="2.3" lengthAdjust="spacingAndGlyphs">1</text>
<text x="740" y="470.15" font-size="5.89" fill="#ffffff" textLength="1.7" lengthAdjust="spacingAndGlyphs">2</text>
<text x="622" y="470.05" font-size="5.63" fill="#ffffff" textLength="2.3" lengthAdjust="spacingAndGlyphs">2</text>
<text x="740" y="477.85" font-size="5.89" fill="#ffffff" textLength="1.7" lengthAdjust="spacingAndGlyphs">3</text>
<text x="622" y="477.75" font-size="5.63" fill="#ffffff" textLength="2.3" lengthAdjust="spacingAndGlyphs">3</text>
<text x="740" y="485.65" font-size="5.89" fill="#ffffff" textLength="1.7" lengthAdjust="spacingAndGlyphs">4</text>
<text x="622" y="485.55" font-size="5.63" fill="#ffffff" textLength="2.3" lengthAdjust="spacingAndGlyphs">4</text>
<text x="740" y="493.1" font-size="5.89" fill="#ffffff" textLength="1.7" lengthAdjust="spacingAndGlyphs">5</text>
<text x="622" y="493" font-size="5.63" fill="#ffffff" textLength="2.3" lengthAdjust="spacingAndGlyphs">5</text>
<text x="740" y="500.75" font-size="5.89" fill="#ffffff" textLength="1.7" lengthAdjust="spacingAndGlyphs">6</text>
<text x="622" y="500.65" font-size="5.63" fill="#ffffff" textLength="2.3" lengthAdjust="spacingAndGlyphs">6</text>
<text x="740" y="508.85" font-size="5.89" fill="#ffffff" textLength="1.7" lengthAdjust="spacingAndGlyphs">7</text>
<text x="622" y="508.75" font-size="5.63" fill="#ffffff" textLength="2.3" lengthAdjust="spacingAndGlyphs">7</text>
<text x="740" y="516.85" font-size="5.89" fill="#ffffff" textLength="1.7" lengthAdjust="spacingAndGlyphs">8</text>
<text x="622" y="516.75" font-size="5.63" fill="#ffffff" textLength="2.3" lengthAdjust="spacingAndGlyphs">8</text>
<text x="740" y="524.75" font-size="5.89" fill="#ffffff" textLength="1.7" lengthAdjust="spacingAndGlyphs">9</text>
<text x="622" y="524.65" font-size="5.63" fill="#ffffff" textLength="2.3" lengthAdjust="spacingAndGlyphs">9</text>
<text x="740" y="532.55" font-size="5.89" fill="#ffffff" textLength="4" lengthAdjust="spacingAndGlyphs">10</text>
<text x="622" y="532.45" font-size="5.63" fill="#ffffff" textLength="2.3" lengthAdjust="spacingAndGlyphs">1</text>
<text x="740" y="540.1" font-size="5.89" fill="#ffffff" textLength="4" lengthAdjust="spacingAndGlyphs">11</text>
<text x="622" y="540" font-size="5.63" fill="#ffffff" textLength="2.3" lengthAdjust="spacingAndGlyphs">2</text>
<text x="633" y="559.5" font-size="5.63" fill="#ffffff" textLength="20" lengthAdjust="spacingAndGlyphs">XRDHW</text>
<text x="655.3" y="558.7" font-size="6.4" fill="#ffffff" textLength="6.7" lengthAdjust="spacingAndGlyphs">MH</text>
<text x="655.3" y="563.7" font-size="5.89" fill="#ffffff" textLength="4.7" lengthAdjust="spacingAndGlyphs">M</text>
<text x="673" y="557.8" font-size="5.12" fill="#ffffff" textLength="4.5" lengthAdjust="spacingAndGlyphs">K</text>
<text x="687" y="557.8" font-size="5.12" fill="#ffffff" textLength="4.5" lengthAdjust="spacingAndGlyphs">X</text>
<text x="700.5" y="557.8" font-size="5.12" fill="#ffffff" textLength="4.5" lengthAdjust="spacingAndGlyphs">W</text>
<text x="714.4" y="557.8" font-size="5.12" fill="#ffffff" textLength="4.5" lengthAdjust="spacingAndGlyphs">B</text>
<text x="655.8" y="595.25" font-size="6.66" fill="#ffffff" textLength="4.7" lengthAdjust="spacingAndGlyphs">H</text>
<text x="655.8" y="633.25" font-size="6.66" fill="#ffffff" textLength="4.7" lengthAdjust="spacingAndGlyphs">E</text>
<text x="664.5" y="564.5" font-size="5.12" fill="#ffffff" textLength="20" lengthAdjust="spacingAndGlyphs">WNMWEM</text>
<text x="689.5" y="564.5" font-size="5.12" fill="#ffffff" textLength="22" lengthAdjust="spacingAndGlyphs">NBWWKM</text>
<text x="716.5" y="564.5" font-size="5.12" fill="#ffffff" textLength="20" lengthAdjust="spacingAndGlyphs">HAHBKA</text>
<text x="739.3" y="561.35" font-size="6.66" fill="#ffffff" textLength="6.7" lengthAdjust="spacingAndGlyphs">E</text>
<text x="771.5" y="560.5" font-size="5.76" fill="#ffffff" textLength="5" lengthAdjust="spacingAndGlyphs">K</text>
<text x="790.5" y="560.5" font-size="5.76" fill="#ffffff" textLength="5" lengthAdjust="spacingAndGlyphs">H</text>
<text x="807.5" y="560.5" font-size="5.76" fill="#ffffff" textLength="5" lengthAdjust="spacingAndGlyphs">W</text>
<text x="827.5" y="560.5" font-size="5.76" fill="#ffffff" textLength="5" lengthAdjust="spacingAndGlyphs">D</text>
<text x="905" y="561" font-size="6.4" fill="#ffffff" textLength="4.5" lengthAdjust="spacingAndGlyphs">M</text>
<text x="922" y="561" font-size="6.4" fill="#ffffff" textLength="4.5" lengthAdjust="spacingAndGlyphs">E</text>
<text x="942" y="561" font-size="6.4" fill="#ffffff" textLength="4.5" lengthAdjust="spacingAndGlyphs">A</text>
<text x="850.3" y="569.3" font-size="4.48" fill="#ffffff" textLength="6.42" lengthAdjust="spacingAndGlyphs">HK</text>
<text x="858.02" y="569.3" font-size="4.48" fill="#ffffff" textLength="6.42" lengthAdjust="spacingAndGlyphs">HM</text>
<text x="865.74" y="569.3" font-size="4.48" fill="#ffffff" textLength="6.42" lengthAdjust="spacingAndGlyphs">BR</text>
<text x="873.46" y="569.3" font-size="4.48" fill="#ffffff" textLength="6.42" lengthAdjust="spacingAndGlyphs">BE</text>
<text x="881.18" y="569.3" font-size="4.48" fill="#ffffff" textLength="6.42" lengthAdjust="spacingAndGlyphs">BH</text>
<text x="888.9" y="569.3" font-size="4.48" fill="#ffffff" textLength="6.42" lengthAdjust="spacingAndGlyphs">EM</text>
<text x="896.62" y="569.3" font-size="4.48" fill="#ffffff" textLength="6.42" lengthAdjust="spacingAndGlyphs">ED</text>
<text x="904.34" y="569.3" font-size="4.48" fill="#ffffff" textLength="6.42" lengthAdjust="spacingAndGlyphs">BB</text>
<text x="912.06" y="569.3" font-size="4.48" fill="#ffffff" textLength="6.42" lengthAdjust="spacingAndGlyphs">WW</text>
<text x="919.78" y="569.3" font-size="4.48" fill="#ffffff" textLength="6.42" lengthAdjust="spacingAndGlyphs">EE</text>
<text x="927.5" y="569.3" font-size="4.48" fill="#ffffff" textLength="6.42" lengthAdjust="spacingAndGlyphs">HE</text>
<text x="935.22" y="569.3" font-size="4.48" fill="#ffffff" textLength="6.42" lengthAdjust="spacingAndGlyphs">AE</text>
<text x="942.94" y="569.3" font-size="4.48" fill="#ffffff" textLength="6.42" lengthAdjust="spacingAndGlyphs">WM</text>
<text x="950.66" y="569.3" font-size="4.48" fill="#ffffff" textLength="6.42" lengthAdjust="spacingAndGlyphs">BX</text>
<text x="958.38" y="569.3" font-size="4.48" fill="#ffffff" textLength="6.42" lengthAdjust="spacingAndGlyphs">MW</text>
<text x="966.1" y="569.3" font-size="4.48" fill="#ffffff" textLength="6.42" lengthAdjust="spacingAndGlyphs">MW</text>
<text x="973.82" y="569.3" font-size="4.48" fill="#ffffff" textLength="6.42" lengthAdjust="spacingAndGlyphs">HB</text>
<text x="981.54" y="569.3" font-size="4.48" fill="#ffffff" textLength="6.42" lengthAdjust="spacingAndGlyphs">WR</text>
<text x="989.26" y="569.3" font-size="4.48" fill="#ffffff" textLength="6.42" lengthAdjust="spacingAndGlyphs">EB</text>
<text x="996.98" y="569.3" font-size="4.48" fill="#ffffff" textLength="6.42" lengthAdjust="spacingAndGlyphs">AE</text>
<text x="1004.7" y="569.3" font-size="4.48" fill="#ffffff" textLength="6.42" lengthAdjust="spacingAndGlyphs">RA</text>
<text x="1012.42" y="569.3" font-size="4.48" fill="#ffffff" textLength="6.42" lengthAdjust="spacingAndGlyphs">WR</text>
<text x="1020.14" y="569.3" font-size="4.48" fill="#ffffff" textLength="6.42" lengthAdjust="spacingAndGlyphs">AR</text>
<text x="1027.86" y="569.3" font-size="4.48" fill="#ffffff" textLength="6.42" lengthAdjust="spacingAndGlyphs">DM</text>
<text x="1035.58" y="569.3" font-size="4.48" fill="#ffffff" textLength="6.42" lengthAdjust="spacingAndGlyphs">BM</text>
<text x="2000" y="543.2" font-size="5.38" fill="#ffffff" textLength="18" lengthAdjust="spacingAndGlyphs">XHWHM</text>
<text x="755" y="571.39" font-size="6.14" fill="#ffffff" textLength="36" lengthAdjust="spacingAndGlyphs">RBWNWKMD</text>
<text x="755" y="579.16" font-size="6.14" fill="#ffffff" textLength="28" lengthAdjust="spacingAndGlyphs">NXAAHE</text>
<text x="755" y="586.94" font-size="6.14" fill="#ffffff" textLength="28" lengthAdjust="spacingAndGlyphs">BEMKXB</text>
<text x="755" y="594.71" font-size="6.14" fill="#ffffff" textLength="32" lengthAdjust="spacingAndGlyphs">BWWAKBH</text>
<text x="755" y="602.49" font-size="6.14" fill="#ffffff" textLength="34" lengthAdjust="spacingAndGlyphs">BRBEHBWH</text>
<text x="755" y="610.26" font-size="6.14" fill="#ffffff" textLength="30" lengthAdjust="spacingAndGlyphs">KXNBHXH</text>
<text x="755" y="618.04" font-size="6.14" fill="#ffffff" textLength="30" lengthAdjust="spacingAndGlyphs">DDRRERR</text>
<text x="755" y="625.81" font-size="6.14" fill="#ffffff" textLength="34" lengthAdjust="spacingAndGlyphs">EHXKXXND</text>
<text x="755" y="633.59" font-size="6.14" fill="#ffffff" textLength="36" lengthAdjust="spacingAndGlyphs">EABMRXXH</text>
<text x="755" y="641.36" font-size="6.14" fill="#ffffff" textLength="28" lengthAdjust="spacingAndGlyphs">HWHMWX</text>
<text x="755" y="649.14" font-size="6.14" fill="#ffffff" textLength="28" lengthAdjust="spacingAndGlyphs">HEWDXH</text>
<text x="755" y="656.91" font-size="6.14" fill="#ffffff" textLength="30" lengthAdjust="spacingAndGlyphs">WEEBEKH</text>
<text x="755" y="664.69" font-size="6.14" fill="#ffffff" textLength="32" lengthAdjust="spacingAndGlyphs">RMHEEWE</text>
<text x="755" y="672.46" font-size="6.14" fill="#ffffff" textLength="34" lengthAdjust="spacingAndGlyphs">ANWERWEM</text>
<text x="755" y="680.24" font-size="6.14" fill="#ffffff" textLength="32" lengthAdjust="spacingAndGlyphs">ABEKDBE</text>
<text x="755" y="688.01" font-size="6.14" fill="#ffffff" textLength="30" lengthAdjust="spacingAndGlyphs">WWWBBHM</text>
<text x="755" y="695.79" font-size="6.14" fill="#ffffff" textLength="30" lengthAdjust="spacingAndGlyphs">NBKMRBD</text>
<text x="755" y="703.56" font-size="6.14" fill="#ffffff" textLength="30" lengthAdjust="spacingAndGlyphs">DBWDEBB</text>
<text x="755" y="711.34" font-size="6.14" fill="#ffffff" textLength="32" lengthAdjust="spacingAndGlyphs">MEEMMEM</text>
<text x="755" y="719.11" font-size="6.14" fill="#ffffff" textLength="16" lengthAdjust="spacingAndGlyphs">BKBH</text>
<text x="639.5" y="578.76" font-size="5.38" fill="#ffffff" textLength="6" lengthAdjust="spacingAndGlyphs">BM</text>
<text x="639.5" y="586.54" font-size="5.38" fill="#ffffff" textLength="6" lengthAdjust="spacingAndGlyphs">EH</text>
<text x="639.5" y="594.31" font-size="5.38" fill="#ffffff" textLength="6" lengthAdjust="spacingAndGlyphs">KN</text>
<text x="639.5" y="602.09" font-size="5.38" fill="#ffffff" textLength="6" lengthAdjust="spacingAndGlyphs">MW</text>
<text x="639.5" y="609.86" font-size="5.38" fill="#ffffff" textLength="6" lengthAdjust="spacingAndGlyphs">NM</text>
<text x="639.5" y="617.64" font-size="5.38" fill="#ffffff" textLength="6" lengthAdjust="spacingAndGlyphs">BE</text>
<text x="639.5" y="625.41" font-size="5.38" fill="#ffffff" textLength="6" lengthAdjust="spacingAndGlyphs">KN</text>
<text x="639.5" y="633.19" font-size="5.38" fill="#ffffff" textLength="6" lengthAdjust="spacingAndGlyphs">ED</text>
<text x="639.5" y="640.96" font-size="5.38" fill="#ffffff" textLength="6" lengthAdjust="spacingAndGlyphs">KK</text>
<text x="639.5" y="648.74" font-size="5.38" fill="#ffffff" textLength="6" lengthAdjust="spacingAndGlyphs">BH</text>
<text x="639.5" y="656.51" font-size="5.38" fill="#ffffff" textLength="6" lengthAdjust="spacingAndGlyphs">MW</text>
<text x="639.5" y="664.29" font-size="5.38" fill="#ffffff" textLength="6" lengthAdjust="spacingAndGlyphs">ED</text>
<text x="639.5" y="672.06" font-size="5.38" fill="#ffffff" textLength="6" lengthAdjust="spacingAndGlyphs">NW</text>
<text x="639.5" y="679.84" font-size="5.38" fill="#ffffff" textLength="6" lengthAdjust="spacingAndGlyphs">WA</text>
<text x="639.5" y="687.61" font-size="5.38" fill="#ffffff" textLength="6" lengthAdjust="spacingAndGlyphs">WM</text>
<text x="639.5" y="695.39" font-size="5.38" fill="#ffffff" textLength="6" lengthAdjust="spacingAndGlyphs">BK</text>
<text x="639.5" y="703.16" font-size="5.38" fill="#ffffff" textLength="6" lengthAdjust="spacingAndGlyphs">XM</text>
<text x="639.5" y="710.94" font-size="5.38" fill="#ffffff" textLength="6" lengthAdjust="spacingAndGlyphs">EW</text>
<text x="639.5" y="718.71" font-size="5.38" fill="#ffffff" textLength="6" lengthAdjust="spacingAndGlyphs">KE</text>
<text x="740" y="571.19" font-size="5.89" fill="#ffffff" textLength="1.7" lengthAdjust="spacingAndGlyphs">1</text>
<text x="740" y="578.96" font-size="5.89" fill="#ffffff" textLength="1.7" lengthAdjust="spacingAndGlyphs">2</text>
<text x="740" y="586.74" font-size="5.89" fill="#ffffff" textLength="1.7" lengthAdjust="spacingAndGlyphs">3</text>
<text x="740" y="594.51" font-size="5.89" fill="#ffffff" textLength="1.7" lengthAdjust="spacingAndGlyphs">4</text>
<text x="740" y="602.29" font-size="5.89" fill="#ffffff" textLength="1.7" lengthAdjust="spacingAndGlyphs">5</text>
<text x="740" y="610.06" font-size="5.89" fill="#ffffff" textLength="1.7" lengthAdjust="spacingAndGlyphs">6</text>
<text x="740" y="617.84" font-size="5.89" fill="#ffffff" textLength="1.7" lengthAdjust="spacingAndGlyphs">7</text>
<text x="740" y="625.61" font-size="5.89" fill="#ffffff" textLength="1.7" lengthAdjust="spacingAndGlyphs">8</text>
<text x="740" y="633.39" font-size="5.89" fill="#ffffff" textLength="1.7" lengthAdjust="spacingAndGlyphs">9</text>
<text x="740" y="641.16" font-size="5.89" fill="#ffffff" textLength="1.7" lengthAdjust="spacingAndGlyphs">1</text>
<text x="740" y="648.94" font-size="5.89" fill="#ffffff" textLength="1.7" lengthAdjust="spacingAndGlyphs">2</text>
<text x="740" y="656.71" font-size="5.89" fill="#ffffff" textLength="1.7" lengthAdjust="spacingAndGlyphs">3</text>
<text x="740" y="664.49" font-size="5.89" fill="#ffffff" textLength="1.7" lengthAdjust="spacingAndGlyphs">4</text>
<text x="740" y="672.26" font-size="5.89" fill="#ffffff" textLength="1.7" lengthAdjust="spacingAndGlyphs">5</text>
<text x="740" y="680.04" font-size="5.89" fill="#ffffff" textLength="1.7" lengthAdjust="spacingAndGlyphs">6</text>
<text x="740" y="687.81" font-size="5.89" fill="#ffffff" textLength="1.7" lengthAdjust="spacingAndGlyphs">7</text>
<text x="740" y="695.59" font-size="5.89" fill="#ffffff" textLength="1.7" lengthAdjust="spacingAndGlyphs">8</text>
<text x="740" y="703.36" font-size="5.89" fill="#ffffff" textLength="1.7" lengthAdjust="spacingAndGlyphs">9</text>
<text x="740" y="711.14" font-size="5.89" fill="#ffffff" textLength="1.7" lengthAdjust="spacingAndGlyphs">1</text></g><g opacity="0.999" stroke="#fff" stroke-width="0.3" font-weight="bold"><text x="170.5" y="160.2" font-size="5.12" fill="#ffffff" textLength="9" lengthAdjust="spacingAndGlyphs">WM</text>
<text x="242.5" y="120.5" font-size="5.12" fill="#ffffff" textLength="8.5" lengthAdjust="spacingAndGlyphs">KM</text>
<text x="56" y="235.5" font-size="5.12" fill="#ffffff" textLength="7" lengthAdjust="spacingAndGlyphs">EH</text>
<text x="226" y="235.5" font-size="5.12" fill="#ffffff" textLength="8" lengthAdjust="spacingAndGlyphs">NX</text>
<text x="276.5" y="254.6" font-size="4.35" fill="#ffffff" textLength="8.5" lengthAdjust="spacingAndGlyphs">EWW</text>
<text x="283.5" y="230.8" font-size="4.35" fill="#ffffff" textLength="7.5" lengthAdjust="spacingAndGlyphs">AH</text>
<text x="274" y="282.8" font-size="4.1" fill="#ffffff" textLength="8" lengthAdjust="spacingAndGlyphs">MHD</text>
<text x="55.5" y="236.1" font-size="4.61" fill="#ffffff" textLength="7.5" lengthAdjust="spacingAndGlyphs">BD</text>
<text x="55.5" y="256.1" font-size="4.61" fill="#ffffff" textLength="7.5" lengthAdjust="spacingAndGlyphs">XB</text>
<text x="55.5" y="276.1" font-size="4.61" fill="#ffffff" textLength="7.5" lengthAdjust="spacingAndGlyphs">ME</text>
<text x="55.5" y="287.6" font-size="4.61" fill="#ffffff" textLength="7.5" lengthAdjust="spacingAndGlyphs">HH</text>
<text x="111.5" y="234.1" font-size="4.61" fill="#ffffff" textLength="7.5" lengthAdjust="spacingAndGlyphs">KM</text>
<text x="111.5" y="254.1" font-size="4.61" fill="#ffffff" textLength="7.5" lengthAdjust="spacingAndGlyphs">MW</text>
<text x="111.5" y="271.1" font-size="4.61" fill="#ffffff" textLength="7.5" lengthAdjust="spacingAndGlyphs">HX</text>
<text x="111.5" y="286.6" font-size="4.61" fill="#ffffff" textLength="7.5" lengthAdjust="spacingAndGlyphs">HH</text>
<text x="215.5" y="235.6" font-size="4.61" fill="#ffffff" textLength="7.5" lengthAdjust="spacingAndGlyphs">KW</text>
<text x="215.5" y="255.6" font-size="4.61" fill="#ffffff" textLength="7.5" lengthAdjust="spacingAndGlyphs">MH</text>
<text x="215.5" y="275.6" font-size="4.61" fill="#ffffff" textLength="7.5" lengthAdjust="spacingAndGlyphs">BN</text>
<text x="215.5" y="287.6" font-size="4.61" fill="#ffffff" textLength="7.5" lengthAdjust="spacingAndGlyphs">EB</text>
<text x="310" y="258.8" font-size="3.84" fill="#ffffff" textLength="13.5" lengthAdjust="spacingAndGlyphs">EBHWW</text>
<text x="341" y="225.8" font-size="3.84" fill="#ffffff" textLength="12.5" lengthAdjust="spacingAndGlyphs">NBABW</text>
<text x="379" y="235.8" font-size="4.22" fill="#ffffff" textLength="14" lengthAdjust="spacingAndGlyphs">MNMBH</text>
<text x="388.5" y="242.8" font-size="4.22" fill="#ffffff" textLength="6.5" lengthAdjust="spacingAndGlyphs">EN</text>
<text x="344" y="278.3" font-size="4.22" fill="#ffffff" textLength="12.5" lengthAdjust="spacingAndGlyphs">WDKX</text>
<text x="386" y="291.6" font-size="4.22" fill="#ffffff" textLength="15" lengthAdjust="spacingAndGlyphs">BERKA</text>
<text x="388" y="303.5" font-size="5.12" fill="#ffffff" textLength="8" lengthAdjust="spacingAndGlyphs">RH</text>
<text x="326" y="262" font-size="4.48" fill="#ffffff" textLength="7" lengthAdjust="spacingAndGlyphs">NR</text>
<text x="532" y="165.8" font-size="3.97" fill="#ffffff" textLength="12" lengthAdjust="spacingAndGlyphs">WERX</text>
<text x="399.6" y="174.2" font-size="4.35" fill="#ffffff" textLength="7.4" lengthAdjust="spacingAndGlyphs">AE</text>
<text x="451" y="165.8" font-size="3.97" fill="#ffffff" textLength="12" lengthAdjust="spacingAndGlyphs">WEKM</text>
<text x="468" y="174.6" font-size="4.35" fill="#ffffff" textLength="7" lengthAdjust="spacingAndGlyphs">KR</text>
<text x="445" y="228.2" font-size="4.35" fill="#ffffff" textLength="12" lengthAdjust="spacingAndGlyphs">AMKR</text>
<text x="469" y="284.3" font-size="4.22" fill="#ffffff" textLength="21" lengthAdjust="spacingAndGlyphs">HWEHHRM</text>
<text x="464.3" y="387.9" font-size="4.1" fill="#ffffff" textLength="10.9" lengthAdjust="spacingAndGlyphs">ERME</text>
<text x="478.4" y="398" font-size="5.12" fill="#ffffff" textLength="9.6" lengthAdjust="spacingAndGlyphs">NEA</text>
<text x="466" y="441" font-size="5.12" fill="#ffffff" textLength="14" lengthAdjust="spacingAndGlyphs">BHXK</text>
<text x="559.4" y="397" font-size="5.12" fill="#ffffff" textLength="9.6" lengthAdjust="spacingAndGlyphs">WDR</text>
<text x="470" y="452" font-size="4.1" fill="#ffffff" textLength="11" lengthAdjust="spacingAndGlyphs">DAMW</text>
<text x="479" y="464.8" font-size="4.22" fill="#ffffff" textLength="13" lengthAdjust="spacingAndGlyphs">XNDB</text>
<text x="452" y="473.8" font-size="4.22" fill="#ffffff" textLength="11" lengthAdjust="spacingAndGlyphs">BEWN</text>
<text x="448" y="512.5" font-size="3.84" fill="#ffffff" textLength="7" lengthAdjust="spacingAndGlyphs">WXW</text>
<text x="382" y="512.5" font-size="3.84" fill="#ffffff" textLength="6" lengthAdjust="spacingAndGlyphs">MW</text>
<text x="387" y="518" font-size="4.86" fill="#ffffff" textLength="20" lengthAdjust="spacingAndGlyphs">MEDHEX</text>
<text x="427" y="531" font-size="4.86" fill="#ffffff" textLength="15" lengthAdjust="spacingAndGlyphs">BDNE</text>
<text x="478" y="514" font-size="4.1" fill="#ffffff" textLength="8" lengthAdjust="spacingAndGlyphs">EWK</text>
<text x="543" y="514" font-size="4.1" fill="#ffffff" textLength="8" lengthAdjust="spacingAndGlyphs">NMX</text>
<text x="481" y="519.5" font-size="4.48" fill="#ffffff" textLength="21" lengthAdjust="spacingAndGlyphs">NHHBNRM</text>
<text x="537.5" y="478.7" font-size="4.48" fill="#ffffff" textLength="7.5" lengthAdjust="spacingAndGlyphs">RM</text>
<text x="579" y="503.5" font-size="4.48" fill="#ffffff" textLength="12" lengthAdjust="spacingAndGlyphs">WEHW</text>
<text x="579" y="520.5" font-size="4.48" fill="#ffffff" textLength="14" lengthAdjust="spacingAndGlyphs">XKMW</text>
<text x="528" y="525" font-size="5.12" fill="#ffffff" textLength="15" lengthAdjust="spacingAndGlyphs">WMMK</text>
<text x="182.3" y="366.5" font-size="4.86" fill="#ffffff" textLength="8.5" lengthAdjust="spacingAndGlyphs">XK</text>
<text x="70" y="425" font-size="4.48" fill="#ffffff" textLength="8" lengthAdjust="spacingAndGlyphs">WHM</text>
<text x="65" y="393.5" font-size="4.48" fill="#ffffff" textLength="8" lengthAdjust="spacingAndGlyphs">ENB</text>
<text x="202" y="388" font-size="4.48" fill="#ffffff" textLength="8" lengthAdjust="spacingAndGlyphs">EBK</text>
<text x="222" y="388" font-size="4.48" fill="#ffffff" textLength="8" lengthAdjust="spacingAndGlyphs">DBD</text>
<text x="202" y="420" font-size="4.48" fill="#ffffff" textLength="8" lengthAdjust="spacingAndGlyphs">WWM</text>
<text x="222" y="420" font-size="4.48" fill="#ffffff" textLength="8" lengthAdjust="spacingAndGlyphs">MBH</text>
<text x="124" y="430.6" font-size="6.66" fill="#ffffff" textLength="3" lengthAdjust="spacingAndGlyphs">B</text>
<text x="177" y="393.1" font-size="6.66" fill="#ffffff" textLength="3" lengthAdjust="spacingAndGlyphs">H</text>
<text x="190" y="460.8" font-size="4.22" fill="#ffffff" textLength="8" lengthAdjust="spacingAndGlyphs">KXH</text>
<text x="66.5" y="475.6" font-size="6.66" fill="#ffffff" textLength="3" lengthAdjust="spacingAndGlyphs">R</text>
<text x="86.5" y="472" font-size="6.4" fill="#ffffff" textLength="3.5" lengthAdjust="spacingAndGlyphs">X</text>
<text x="163" y="475.6" font-size="6.66" fill="#ffffff" textLength="3" lengthAdjust="spacingAndGlyphs">W</text>
<text x="239" y="463.6" font-size="6.66" fill="#ffffff" textLength="3" lengthAdjust="spacingAndGlyphs">H</text>
<text x="123" y="493.8" font-size="4.22" fill="#ffffff" textLength="7" lengthAdjust="spacingAndGlyphs">AR</text>
<text x="177" y="490.2" font-size="4.1" fill="#ffffff" textLength="18" lengthAdjust="spacingAndGlyphs">WRBRDE</text>
<text x="197" y="493.8" font-size="4.22" fill="#ffffff" textLength="6" lengthAdjust="spacingAndGlyphs">BM</text>
<text x="35" y="530" font-size="4.1" fill="#ffffff" textLength="7" lengthAdjust="spacingAndGlyphs">KR</text>
<text x="108" y="530" font-size="4.1" fill="#ffffff" textLength="7" lengthAdjust="spacingAndGlyphs">XE</text>
<text x="201" y="530" font-size="4.1" fill="#ffffff" textLength="7" lengthAdjust="spacingAndGlyphs">KA</text>
<text x="268" y="530" font-size="4.1" fill="#ffffff" textLength="7" lengthAdjust="spacingAndGlyphs">EM</text>
<text x="47" y="548.8" font-size="4.22" fill="#ffffff" textLength="19" lengthAdjust="spacingAndGlyphs">AXMWWM</text>
<text x="245" y="549.8" font-size="4.22" fill="#ffffff" textLength="20" lengthAdjust="spacingAndGlyphs">MBXDEMB</text>
<text x="108" y="562.3" font-size="4.22" fill="#ffffff" textLength="6" lengthAdjust="spacingAndGlyphs">KN</text>
<text x="178" y="562.3" font-size="4.22" fill="#ffffff" textLength="7" lengthAdjust="spacingAndGlyphs">WM</text>
<text x="165" y="578.8" font-size="4.22" fill="#ffffff" textLength="20" lengthAdjust="spacingAndGlyphs">HHKENMM</text>
<text x="367" y="564.5" font-size="4.1" fill="#ffffff" textLength="9" lengthAdjust="spacingAndGlyphs">WNW</text>
<text x="298" y="604.6" font-size="6.66" fill="#ffffff" textLength="3.5" lengthAdjust="spacingAndGlyphs">B</text>
<text x="146.5" y="646.75" font-size="6.66" fill="#ffffff" textLength="26.5" lengthAdjust="spacingAndGlyphs">WBEEBM</text>
<text x="146" y="679.25" font-size="6.66" fill="#ffffff" textLength="16" lengthAdjust="spacingAndGlyphs">HXE</text>
<text x="146" y="710.8" font-size="6.66" fill="#ffffff" textLength="13" lengthAdjust="spacingAndGlyphs">EHW</text>
<text x="250.5" y="654" font-size="5.12" fill="#ffffff" textLength="18.9" lengthAdjust="spacingAndGlyphs">WBDWH</text>
<text x="341.5" y="656.35" font-size="6.66" fill="#ffffff" textLength="3" lengthAdjust="spacingAndGlyphs">N</text>
<text x="347" y="655.8" font-size="4.22" fill="#ffffff" textLength="9" lengthAdjust="spacingAndGlyphs">HED</text>
<text x="351.5" y="691.8" font-size="4.22" fill="#ffffff" textLength="9" lengthAdjust="spacingAndGlyphs">AAB</text>
<text x="346.5" y="710.3" font-size="4.22" fill="#ffffff" textLength="7" lengthAdjust="spacingAndGlyphs">RM</text>
<text x="382.5" y="691.8" font-size="4.22" fill="#ffffff" textLength="9" lengthAdjust="spacingAndGlyphs">ERD</text>
<text x="377.5" y="712.3" font-size="4.22" fill="#ffffff" textLength="12" lengthAdjust="spacingAndGlyphs">WEAW</text>
<text x="400.5" y="625.3" font-size="4.22" fill="#ffffff" textLength="5" lengthAdjust="spacingAndGlyphs">DM</text>
<text x="379" y="671.3" font-size="3.97" fill="#ffffff" textLength="15" lengthAdjust="spacingAndGlyphs">BMBHE</text>
<text x="368.5" y="675.6" font-size="6.66" fill="#ffffff" textLength="3" lengthAdjust="spacingAndGlyphs">W</text>
<text x="421.5" y="691.8" font-size="4.22" fill="#ffffff" textLength="9" lengthAdjust="spacingAndGlyphs">WEB</text>
<text x="416.5" y="712.3" font-size="4.22" fill="#ffffff" textLength="12" lengthAdjust="spacingAndGlyphs">DKBM</text>
<text x="439.5" y="625.3" font-size="4.22" fill="#ffffff" textLength="5" lengthAdjust="spacingAndGlyphs">ED</text>
<text x="418" y="671.3" font-size="3.97" fill="#ffffff" textLength="15" lengthAdjust="spacingAndGlyphs">WMEWH</text>
<text x="407.5" y="675.6" font-size="6.66" fill="#ffffff" textLength="3" lengthAdjust="spacingAndGlyphs">W</text>
<text x="459.5" y="691.8" font-size="4.22" fill="#ffffff" textLength="9" lengthAdjust="spacingAndGlyphs">KWE</text>
<text x="454.5" y="712.3" font-size="4.22" fill="#ffffff" textLength="12" lengthAdjust="spacingAndGlyphs">RKDE</text>
<text x="477.5" y="625.3" font-size="4.22" fill="#ffffff" textLength="5" lengthAdjust="spacingAndGlyphs">XW</text>
<text x="456" y="671.3" font-size="3.97" fill="#ffffff" textLength="15" lengthAdjust="spacingAndGlyphs">KHBWH</text>
<text x="445.5" y="675.6" font-size="6.66" fill="#ffffff" textLength="3" lengthAdjust="spacingAndGlyphs">A</text>
<text x="518.5" y="691.8" font-size="4.22" fill="#ffffff" textLength="9" lengthAdjust="spacingAndGlyphs">EHM</text>
<text x="513.5" y="712.3" font-size="4.22" fill="#ffffff" textLength="12" lengthAdjust="spacingAndGlyphs">MBBM</text>
<text x="536.5" y="625.3" font-size="4.22" fill="#ffffff" textLength="5" lengthAdjust="spacingAndGlyphs">EE</text>
<text x="515" y="671.3" font-size="3.97" fill="#ffffff" textLength="15" lengthAdjust="spacingAndGlyphs">DRBKM</text>
<text x="504.5" y="675.6" font-size="6.66" fill="#ffffff" textLength="3" lengthAdjust="spacingAndGlyphs">X</text>
<text x="556.5" y="691.8" font-size="4.22" fill="#ffffff" textLength="9" lengthAdjust="spacingAndGlyphs">HNW</text>
<text x="551.5" y="712.3" font-size="4.22" fill="#ffffff" textLength="12" lengthAdjust="spacingAndGlyphs">EANH</text>
<text x="574.5" y="625.3" font-size="4.22" fill="#ffffff" textLength="5" lengthAdjust="spacingAndGlyphs">AK</text>
<text x="553" y="671.3" font-size="3.97" fill="#ffffff" textLength="15" lengthAdjust="spacingAndGlyphs">HHRXN</text>
<text x="542.5" y="675.6" font-size="6.66" fill="#ffffff" textLength="3" lengthAdjust="spacingAndGlyphs">A</text>
<text x="594.5" y="691.8" font-size="4.22" fill="#ffffff" textLength="9" lengthAdjust="spacingAndGlyphs">HXE</text>
<text x="589.5" y="712.3" font-size="4.22" fill="#ffffff" textLength="12" lengthAdjust="spacingAndGlyphs">RDNN</text>
<text x="612.5" y="625.3" font-size="4.22" fill="#ffffff" textLength="5" lengthAdjust="spacingAndGlyphs">XA</text>
<text x="591" y="671.3" font-size="3.97" fill="#ffffff" textLength="15" lengthAdjust="spacingAndGlyphs">EKXAE</text>
<text x="580.5" y="675.6" font-size="6.66" fill="#ffffff" textLength="3" lengthAdjust="spacingAndGlyphs">R</text>
<text x="381.5" y="619" font-size="4.1" fill="#ffffff" textLength="14" lengthAdjust="spacingAndGlyphs">HKHEM</text></g>
</svg>
</body></html>
